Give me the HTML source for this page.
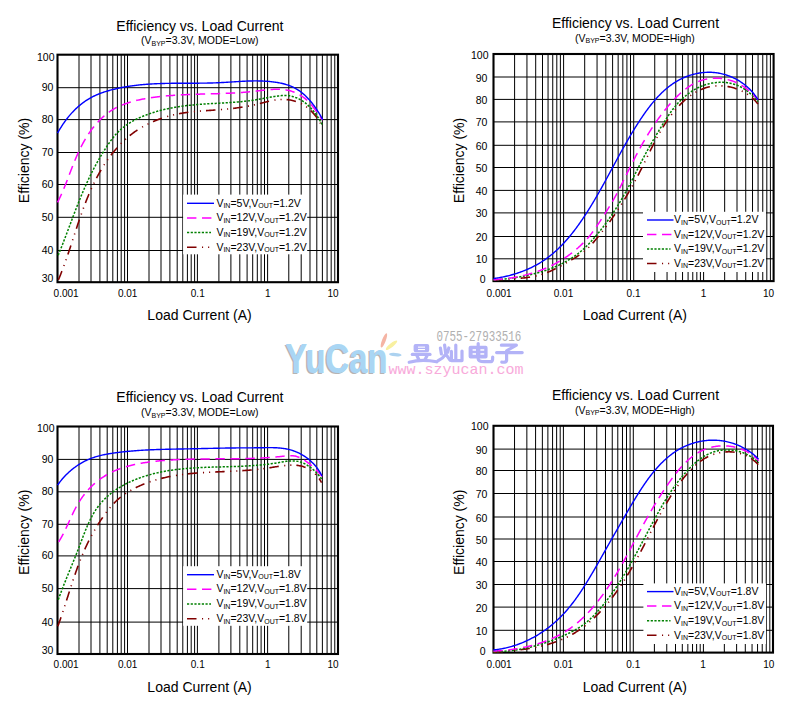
<!DOCTYPE html><html><head><meta charset="utf-8"><style>html,body{margin:0;padding:0;background:#fff;width:811px;height:710px;overflow:hidden}svg{display:block}</style></head><body>
<svg width="811" height="710" viewBox="0 0 811 710">
<rect width="811" height="710" fill="#fff"/>
<path d="M79 54.7V282.2M91 54.7V282.2M99.9 54.7V282.2M107.2 54.7V282.2M112.8 54.7V282.2M117.4 54.7V282.2M121.2 54.7V282.2M124.6 54.7V282.2M127.5 54.7V282.2M149 54.7V282.2M161 54.7V282.2M169.9 54.7V282.2M177.2 54.7V282.2M182.8 54.7V282.2M187.4 54.7V282.2M191.2 54.7V282.2M194.6 54.7V282.2M197.4 54.7V282.2M218.9 54.7V282.2M230.9 54.7V282.2M239.8 54.7V282.2M247.1 54.7V282.2M252.7 54.7V282.2M257.3 54.7V282.2M261.1 54.7V282.2M264.5 54.7V282.2M267.6 54.7V282.2M288.79 54.7V282.2M301.19 54.7V282.2M309.99 54.7V282.2M316.81 54.7V282.2M322.38 54.7V282.2M327.09 54.7V282.2M331.18 54.7V282.2M334.78 54.7V282.2M57.5 87.7H338M57.5 119.6H338M57.5 152.5H338M57.5 184.5H338M57.5 217.3H338M57.5 250.5H338" stroke="#000" stroke-width="1" fill="none"/>
<rect x="183.1" y="194.6" width="124.1" height="59.7" fill="#fff"/>
<rect x="57.5" y="54.7" width="280.5" height="227.5" fill="none" stroke="#000" stroke-width="2.1"/>
<path d="M58.38,279.95 58.76,279.03 59.14,278.12 59.52,277.2 59.89,276.28 60.26,275.36 60.62,274.43 60.99,273.51 61.35,272.58 61.7,271.66 62.06,270.73 62.41,269.8 62.76,268.87 63.11,267.93 63.46,267 63.8,266.07 64.14,265.13 64.48,264.19 64.82,263.25 65.15,262.32 65.49,261.38 65.82,260.43 66.15,259.49 66.48,258.55 66.81,257.61 67.13,256.66 67.45,255.72 67.78,254.77 68.1,253.82 68.42,252.88 68.74,251.93 69.05,250.98 69.37,250.03 69.69,249.08 70,248.13 70.32,247.18 70.63,246.23 70.94,245.28 71.25,244.33 71.57,243.37 71.88,242.42 72.19,241.47 72.5,240.52 72.81,239.56 73.12,238.61 73.43,237.66 73.74,236.71 74.05,235.75 74.36,234.8 74.67,233.85 74.98,232.89 75.29,231.94 75.61,230.99 75.92,230.04 76.23,229.09 76.54,228.13 76.86,227.18 77.17,226.23 77.49,225.28 77.81,224.33 78.13,223.38 78.44,222.43 78.76,221.48 79.09,220.54 79.41,219.59 79.73,218.64 80.06,217.7 80.39,216.75 80.71,215.81 81.05,214.86 81.38,213.92 81.71,212.98 82.05,212.04 82.39,211.1 82.73,210.16 83.07,209.22 83.41,208.28 83.76,207.35 84.11,206.41 84.46,205.48 84.81,204.55 85.17,203.62 85.53,202.69 85.89,201.76 86.25,200.83 86.62,199.9 86.99,198.98 87.36,198.06 87.74,197.14 88.12,196.22 88.5,195.3 88.89,194.38 89.28,193.47 89.67,192.55 90.06,191.64 90.46,190.73 90.87,189.82 91.27,188.92 91.68,188.01 92.1,187.11 92.52,186.21 92.94,185.31 93.37,184.42 93.8,183.52 94.23,182.63 94.67,181.74 95.11,180.85 95.56,179.96 96.01,179.08 96.47,178.2 96.93,177.32 97.4,176.44 97.87,175.57 98.34,174.7 98.83,173.83 99.31,172.96 99.8,172.1 100.3,171.24 100.8,170.38 101.31,169.52 101.82,168.67 102.34,167.81 102.86,166.97 103.39,166.12 103.92,165.28 104.46,164.44 105.01,163.6 105.56,162.77 106.12,161.94 106.68,161.11 107.25,160.28 107.82,159.46 108.4,158.64 108.99,157.83 109.58,157.02 110.18,156.21 110.79,155.41 111.4,154.61 112.02,153.82 112.64,153.03 113.27,152.25 113.9,151.47 114.55,150.7 115.19,149.93 115.85,149.16 116.51,148.41 117.17,147.65 117.84,146.91 118.52,146.17 119.2,145.43 119.89,144.7 120.59,143.98 121.29,143.27 122,142.56 122.71,141.86 123.43,141.16 124.16,140.48 124.89,139.79 125.63,139.12 126.37,138.46 127.12,137.8 127.88,137.15 128.64,136.51 129.41,135.87 130.19,135.25 130.97,134.63 131.75,134.02 132.55,133.42 133.35,132.83 134.15,132.25 134.96,131.68 135.78,131.11 136.6,130.56 137.43,130.01 138.27,129.47 139.11,128.94 139.95,128.42 140.8,127.9 141.66,127.4 142.52,126.9 143.38,126.41 144.25,125.93 145.12,125.46 146,125 146.89,124.54 147.78,124.1 148.67,123.66 149.57,123.23 150.47,122.8 151.37,122.39 152.28,121.98 153.19,121.59 154.11,121.2 155.03,120.81 155.95,120.44 156.88,120.07 157.81,119.71 158.75,119.36 159.68,119.02 160.62,118.68 161.57,118.36 162.51,118.04 163.46,117.72 164.41,117.42 165.37,117.12 166.33,116.83 167.29,116.55 168.25,116.28 169.21,116.01 170.18,115.75 171.15,115.5 172.12,115.26 173.09,115.02 174.06,114.79 175.04,114.57 176.01,114.35 176.99,114.15 177.97,113.95 178.95,113.75 179.94,113.57 180.92,113.39 181.9,113.22 182.89,113.05 183.88,112.9 184.86,112.75 185.85,112.6 186.84,112.46 187.83,112.33 188.82,112.2 189.81,112.08 190.8,111.97 191.79,111.85 192.79,111.75 193.78,111.64 194.77,111.55 195.76,111.45 196.76,111.36 197.75,111.27 198.75,111.19 199.74,111.11 200.74,111.03 201.73,110.95 202.73,110.88 203.72,110.8 204.72,110.73 205.71,110.66 206.71,110.6 207.7,110.53 208.7,110.46 209.69,110.39 210.68,110.33 211.68,110.26 212.67,110.19 213.67,110.13 214.66,110.06 215.65,109.99 216.64,109.92 217.63,109.84 218.62,109.77 219.62,109.69 220.61,109.61 221.59,109.53 222.58,109.45 223.57,109.36 224.56,109.27 225.55,109.18 226.53,109.09 227.52,108.99 228.51,108.89 229.49,108.79 230.48,108.68 231.46,108.57 232.45,108.46 233.43,108.34 234.42,108.22 235.4,108.09 236.38,107.97 237.37,107.83 238.35,107.7 239.33,107.56 240.32,107.41 241.3,107.26 242.28,107.11 243.26,106.95 244.24,106.79 245.23,106.62 246.21,106.45 247.19,106.27 248.17,106.09 249.15,105.9 250.14,105.71 251.12,105.51 252.1,105.31 253.08,105.1 254.06,104.89 255.05,104.66 256.03,104.44 257.01,104.2 257.99,103.97 258.98,103.72 259.96,103.47 260.94,103.22 261.92,102.97 262.91,102.71 263.89,102.46 264.87,102.21 265.86,101.96 266.84,101.72 267.83,101.48 268.81,101.25 269.8,101.03 270.78,100.81 271.77,100.61 272.75,100.42 273.74,100.24 274.72,100.08 275.71,99.93 276.69,99.8 277.68,99.68 278.67,99.59 279.65,99.51 280.64,99.46 281.63,99.43 282.61,99.41 283.6,99.42 284.58,99.45 285.56,99.5 286.53,99.58 287.51,99.67 288.48,99.79 289.44,99.92 290.4,100.08 291.36,100.27 292.31,100.47 293.26,100.7 294.2,100.95 295.13,101.22 296.06,101.52 296.98,101.84 297.89,102.18 298.79,102.55 299.69,102.94 300.57,103.36 301.45,103.79 302.31,104.26 303.17,104.74 304.02,105.26 304.85,105.79 305.67,106.35 306.48,106.94 307.28,107.55 308.07,108.17 308.84,108.82 309.6,109.49 310.35,110.18 311.08,110.89 311.8,111.62 312.51,112.36 313.2,113.12 313.88,113.89 314.54,114.67 315.19,115.47 315.82,116.29 316.43,117.11 317.03,117.94 317.61,118.79 318.17,119.64 318.72,120.5 319.25,121.37 319.76,122.24 320.26,123.12 320.73,124 321.19,124.89 321.63,125.78 322.04,126.67" fill="none" stroke="#800000" stroke-width="1.6" stroke-dasharray="9.5 5.5 1.1 5 1.1 5" stroke-linejoin="round"/>
<path d="M58.19,255.19 58.56,254.28 58.94,253.37 59.31,252.45 59.69,251.54 60.06,250.62 60.43,249.7 60.79,248.78 61.16,247.86 61.53,246.94 61.89,246.02 62.25,245.09 62.62,244.17 62.98,243.24 63.34,242.31 63.7,241.38 64.05,240.46 64.41,239.53 64.77,238.6 65.12,237.66 65.48,236.73 65.83,235.8 66.19,234.87 66.54,233.93 66.89,233 67.25,232.06 67.6,231.13 67.95,230.19 68.3,229.26 68.65,228.32 69.01,227.38 69.36,226.45 69.71,225.51 70.06,224.57 70.41,223.64 70.76,222.7 71.12,221.76 71.47,220.82 71.82,219.89 72.17,218.95 72.53,218.01 72.88,217.07 73.24,216.14 73.59,215.2 73.95,214.26 74.3,213.33 74.66,212.39 75.02,211.46 75.38,210.52 75.74,209.59 76.1,208.65 76.46,207.72 76.83,206.79 77.19,205.85 77.56,204.92 77.92,203.99 78.29,203.06 78.66,202.13 79.03,201.2 79.4,200.28 79.78,199.35 80.15,198.42 80.53,197.5 80.91,196.58 81.29,195.65 81.67,194.73 82.06,193.81 82.44,192.89 82.83,191.97 83.22,191.06 83.61,190.14 84.01,189.23 84.41,188.32 84.81,187.4 85.21,186.5 85.61,185.59 86.02,184.68 86.43,183.78 86.84,182.87 87.25,181.97 87.67,181.07 88.09,180.17 88.51,179.27 88.93,178.38 89.36,177.48 89.79,176.59 90.22,175.7 90.66,174.81 91.1,173.92 91.54,173.04 91.98,172.15 92.43,171.27 92.88,170.39 93.34,169.5 93.8,168.63 94.26,167.75 94.72,166.87 95.19,166 95.66,165.12 96.13,164.25 96.61,163.38 97.09,162.51 97.58,161.64 98.07,160.77 98.56,159.91 99.06,159.04 99.56,158.18 100.06,157.32 100.57,156.46 101.08,155.6 101.59,154.74 102.11,153.88 102.64,153.03 103.16,152.17 103.7,151.32 104.23,150.47 104.77,149.62 105.32,148.77 105.87,147.92 106.42,147.07 106.98,146.23 107.54,145.38 108.1,144.54 108.68,143.7 109.25,142.87 109.84,142.03 110.43,141.21 111.02,140.39 111.63,139.57 112.24,138.76 112.86,137.96 113.49,137.17 114.12,136.39 114.77,135.62 115.43,134.86 116.09,134.11 116.77,133.38 117.45,132.65 118.15,131.95 118.86,131.25 119.58,130.57 120.3,129.9 121.04,129.25 121.79,128.6 122.55,127.97 123.32,127.36 124.1,126.75 124.88,126.16 125.68,125.58 126.48,125.01 127.29,124.45 128.11,123.91 128.94,123.37 129.77,122.85 130.61,122.34 131.46,121.84 132.32,121.34 133.18,120.86 134.05,120.39 134.93,119.93 135.81,119.48 136.69,119.04 137.59,118.6 138.49,118.18 139.39,117.77 140.3,117.36 141.21,116.96 142.12,116.57 143.05,116.19 143.97,115.82 144.9,115.45 145.83,115.1 146.76,114.74 147.7,114.4 148.64,114.07 149.59,113.74 150.53,113.41 151.48,113.1 152.43,112.79 153.38,112.48 154.34,112.19 155.29,111.9 156.25,111.61 157.21,111.34 158.18,111.07 159.14,110.8 160.11,110.54 161.08,110.29 162.05,110.04 163.02,109.8 163.99,109.57 164.96,109.34 165.94,109.11 166.92,108.89 167.9,108.68 168.88,108.47 169.86,108.27 170.84,108.08 171.82,107.89 172.81,107.7 173.79,107.52 174.78,107.34 175.77,107.17 176.76,107.01 177.74,106.85 178.73,106.69 179.72,106.54 180.71,106.4 181.7,106.25 182.69,106.12 183.69,105.98 184.68,105.86 185.67,105.73 186.66,105.61 187.65,105.5 188.65,105.39 189.64,105.28 190.63,105.18 191.62,105.08 192.62,104.98 193.61,104.89 194.6,104.8 195.6,104.71 196.59,104.62 197.58,104.54 198.58,104.46 199.57,104.39 200.57,104.31 201.56,104.24 202.55,104.17 203.55,104.1 204.54,104.04 205.54,103.97 206.53,103.91 207.53,103.85 208.52,103.79 209.51,103.73 210.51,103.67 211.5,103.61 212.5,103.56 213.49,103.5 214.49,103.45 215.48,103.39 216.48,103.34 217.47,103.28 218.46,103.23 219.46,103.17 220.45,103.11 221.45,103.06 222.44,103 223.43,102.94 224.43,102.89 225.42,102.83 226.42,102.77 227.41,102.7 228.4,102.64 229.4,102.58 230.39,102.51 231.38,102.44 232.38,102.37 233.37,102.3 234.36,102.22 235.35,102.15 236.34,102.07 237.34,101.98 238.33,101.9 239.32,101.81 240.31,101.72 241.3,101.63 242.29,101.53 243.28,101.43 244.27,101.32 245.26,101.21 246.25,101.1 247.24,100.99 248.23,100.87 249.22,100.74 250.21,100.61 251.2,100.48 252.19,100.34 253.17,100.2 254.16,100.05 255.15,99.9 256.13,99.74 257.12,99.57 258.11,99.41 259.09,99.24 260.08,99.06 261.06,98.89 262.05,98.71 263.03,98.53 264.02,98.35 265,98.17 265.99,97.99 266.97,97.81 267.96,97.63 268.94,97.45 269.92,97.28 270.91,97.11 271.89,96.94 272.88,96.77 273.86,96.61 274.85,96.46 275.83,96.31 276.82,96.16 277.8,96.02 278.79,95.89 279.77,95.78 280.76,95.67 281.74,95.59 282.72,95.53 283.7,95.49 284.68,95.47 285.66,95.49 286.64,95.53 287.61,95.61 288.58,95.72 289.54,95.86 290.5,96.04 291.46,96.24 292.41,96.47 293.35,96.73 294.29,97.02 295.22,97.34 296.14,97.68 297.05,98.06 297.96,98.46 298.85,98.88 299.73,99.34 300.61,99.82 301.47,100.32 302.32,100.85 303.16,101.4 303.98,101.98 304.8,102.57 305.59,103.19 306.38,103.83 307.15,104.49 307.91,105.16 308.65,105.85 309.38,106.56 310.09,107.28 310.79,108.01 311.48,108.76 312.15,109.52 312.81,110.29 313.45,111.07 314.08,111.86 314.7,112.66 315.3,113.47 315.9,114.28 316.48,115.11 317.04,115.93 317.6,116.77 318.14,117.61 318.67,118.45 319.19,119.29 319.7,120.14 320.2,120.99 320.68,121.84 321.16,122.69 321.63,123.54 322.08,124.38" fill="none" stroke="#008000" stroke-width="1.5" stroke-dasharray="2.2 1.5" stroke-linejoin="round"/>
<path d="M57.55,202.3 58.01,201.4 58.47,200.49 58.92,199.58 59.37,198.66 59.81,197.75 60.24,196.84 60.67,195.92 61.09,195.01 61.5,194.09 61.91,193.17 62.31,192.25 62.71,191.33 63.1,190.41 63.49,189.49 63.88,188.57 64.26,187.65 64.63,186.73 65.01,185.8 65.38,184.88 65.75,183.96 66.11,183.03 66.47,182.11 66.83,181.18 67.19,180.26 67.55,179.33 67.9,178.41 68.26,177.48 68.61,176.55 68.96,175.63 69.31,174.7 69.66,173.78 70.02,172.85 70.37,171.92 70.72,171 71.07,170.07 71.43,169.15 71.78,168.23 72.14,167.3 72.5,166.38 72.86,165.45 73.22,164.53 73.59,163.61 73.96,162.69 74.33,161.77 74.7,160.85 75.08,159.93 75.47,159.01 75.85,158.09 76.24,157.18 76.64,156.26 77.04,155.35 77.44,154.43 77.86,153.52 78.27,152.61 78.69,151.7 79.12,150.79 79.56,149.88 80,148.98 80.45,148.07 80.9,147.17 81.36,146.27 81.83,145.38 82.3,144.48 82.78,143.59 83.27,142.7 83.76,141.81 84.26,140.93 84.77,140.06 85.28,139.18 85.8,138.31 86.33,137.45 86.86,136.59 87.41,135.73 87.95,134.88 88.51,134.04 89.07,133.2 89.64,132.36 90.22,131.54 90.81,130.72 91.4,129.9 92,129.09 92.6,128.29 93.22,127.5 93.84,126.71 94.47,125.94 95.11,125.17 95.75,124.4 96.41,123.65 97.07,122.9 97.73,122.17 98.41,121.44 99.09,120.72 99.79,120.01 100.49,119.31 101.19,118.62 101.91,117.94 102.63,117.28 103.37,116.62 104.11,115.97 104.86,115.33 105.61,114.71 106.38,114.1 107.15,113.49 107.94,112.9 108.73,112.33 109.53,111.76 110.33,111.21 111.15,110.67 111.98,110.14 112.81,109.63 113.65,109.13 114.5,108.64 115.36,108.17 116.23,107.71 117.11,107.26 117.99,106.82 118.88,106.4 119.78,105.99 120.68,105.59 121.59,105.2 122.51,104.82 123.44,104.45 124.36,104.1 125.3,103.75 126.24,103.42 127.19,103.09 128.14,102.78 129.09,102.47 130.05,102.18 131.02,101.89 131.99,101.61 132.96,101.34 133.94,101.08 134.92,100.83 135.9,100.59 136.89,100.35 137.88,100.12 138.87,99.9 139.86,99.68 140.85,99.48 141.85,99.28 142.85,99.08 143.85,98.89 144.85,98.71 145.85,98.54 146.86,98.37 147.86,98.2 148.86,98.04 149.87,97.89 150.87,97.73 151.87,97.59 152.87,97.45 153.87,97.31 154.87,97.18 155.87,97.05 156.87,96.92 157.87,96.8 158.87,96.68 159.86,96.57 160.86,96.46 161.86,96.35 162.85,96.24 163.85,96.14 164.84,96.05 165.84,95.95 166.83,95.86 167.82,95.78 168.82,95.69 169.81,95.61 170.8,95.53 171.79,95.46 172.78,95.38 173.77,95.31 174.76,95.24 175.76,95.18 176.75,95.12 177.74,95.05 178.73,95 179.71,94.94 180.7,94.89 181.69,94.83 182.68,94.78 183.67,94.73 184.66,94.69 185.65,94.64 186.64,94.6 187.63,94.56 188.62,94.52 189.61,94.48 190.59,94.44 191.58,94.41 192.57,94.37 193.56,94.34 194.55,94.3 195.54,94.27 196.53,94.24 197.52,94.21 198.51,94.18 199.5,94.15 200.49,94.12 201.48,94.1 202.47,94.07 203.46,94.04 204.45,94.01 205.44,93.99 206.44,93.96 207.43,93.93 208.42,93.91 209.41,93.88 210.4,93.85 211.4,93.83 212.39,93.8 213.38,93.77 214.38,93.74 215.37,93.71 216.36,93.68 217.36,93.65 218.35,93.62 219.35,93.59 220.34,93.55 221.34,93.52 222.33,93.48 223.33,93.45 224.33,93.41 225.32,93.37 226.32,93.33 227.32,93.29 228.32,93.24 229.31,93.2 230.31,93.15 231.31,93.1 232.31,93.05 233.31,93 234.31,92.94 235.31,92.89 236.31,92.83 237.31,92.77 238.31,92.7 239.32,92.64 240.32,92.57 241.32,92.5 242.32,92.42 243.33,92.35 244.33,92.27 245.34,92.19 246.34,92.1 247.35,92.01 248.35,91.92 249.36,91.83 250.37,91.73 251.37,91.63 252.38,91.53 253.39,91.42 254.4,91.31 255.41,91.19 256.42,91.07 257.43,90.95 258.44,90.83 259.45,90.71 260.46,90.58 261.47,90.46 262.48,90.34 263.49,90.22 264.5,90.1 265.5,89.99 266.51,89.88 267.52,89.78 268.52,89.68 269.52,89.59 270.53,89.51 271.53,89.44 272.52,89.38 273.52,89.33 274.52,89.29 275.51,89.26 276.5,89.24 277.49,89.24 278.47,89.25 279.45,89.28 280.43,89.32 281.41,89.38 282.39,89.46 283.36,89.55 284.32,89.67 285.29,89.8 286.25,89.96 287.2,90.14 288.16,90.34 289.11,90.56 290.05,90.81 290.99,91.08 291.92,91.37 292.85,91.69 293.78,92.03 294.69,92.4 295.6,92.79 296.5,93.2 297.39,93.63 298.27,94.08 299.15,94.56 300.01,95.05 300.86,95.57 301.7,96.11 302.53,96.67 303.34,97.24 304.15,97.84 304.93,98.46 305.71,99.09 306.47,99.75 307.21,100.42 307.94,101.11 308.65,101.82 309.35,102.55 310.03,103.29 310.69,104.04 311.35,104.81 311.99,105.59 312.62,106.38 313.24,107.18 313.85,107.98 314.45,108.79 315.05,109.61 315.64,110.43 316.22,111.26 316.8,112.08 317.38,112.91 317.95,113.73 318.52,114.55 319.09,115.37 319.67,116.18 320.24,116.99 320.81,117.79 321.39,118.58 321.97,119.36 322.56,120.12" fill="none" stroke="#ff00ff" stroke-width="1.5" stroke-dasharray="9.4 5.6" stroke-linejoin="round"/>
<path d="M57.56,133.07 58.05,132.19 58.55,131.32 59.06,130.45 59.57,129.58 60.09,128.72 60.62,127.86 61.16,127.01 61.7,126.16 62.25,125.32 62.81,124.48 63.37,123.65 63.95,122.82 64.53,122 65.12,121.18 65.71,120.37 66.32,119.56 66.93,118.77 67.55,117.98 68.17,117.19 68.81,116.41 69.45,115.64 70.1,114.88 70.75,114.13 71.42,113.38 72.09,112.64 72.77,111.91 73.46,111.19 74.16,110.47 74.86,109.77 75.57,109.07 76.29,108.38 77.02,107.71 77.76,107.04 78.5,106.38 79.25,105.73 80.01,105.1 80.78,104.47 81.55,103.85 82.34,103.24 83.13,102.65 83.93,102.07 84.74,101.49 85.56,100.93 86.38,100.38 87.22,99.85 88.06,99.32 88.91,98.81 89.77,98.31 90.63,97.82 91.51,97.35 92.39,96.89 93.28,96.44 94.18,96 95.09,95.58 96,95.17 96.92,94.76 97.84,94.38 98.77,94 99.71,93.63 100.65,93.27 101.6,92.92 102.55,92.59 103.5,92.26 104.46,91.94 105.42,91.63 106.39,91.33 107.36,91.03 108.33,90.75 109.3,90.47 110.27,90.2 111.25,89.94 112.23,89.69 113.2,89.44 114.18,89.2 115.16,88.96 116.14,88.73 117.12,88.51 118.1,88.29 119.08,88.08 120.06,87.88 121.04,87.68 122.02,87.48 123,87.3 123.98,87.12 124.97,86.94 125.95,86.77 126.93,86.6 127.92,86.44 128.9,86.29 129.89,86.14 130.87,85.99 131.86,85.85 132.84,85.72 133.83,85.59 134.82,85.46 135.8,85.34 136.79,85.23 137.78,85.12 138.77,85.01 139.76,84.9 140.75,84.81 141.73,84.71 142.72,84.62 143.71,84.53 144.71,84.45 145.7,84.37 146.69,84.29 147.68,84.22 148.67,84.15 149.66,84.09 150.66,84.02 151.65,83.96 152.64,83.91 153.64,83.85 154.63,83.8 155.62,83.76 156.62,83.71 157.61,83.67 158.61,83.63 159.6,83.59 160.6,83.56 161.59,83.53 162.59,83.5 163.59,83.47 164.58,83.45 165.58,83.42 166.58,83.4 167.57,83.38 168.57,83.36 169.57,83.34 170.57,83.33 171.57,83.32 172.56,83.3 173.56,83.29 174.56,83.28 175.56,83.27 176.56,83.27 177.56,83.26 178.56,83.25 179.56,83.25 180.56,83.25 181.56,83.24 182.56,83.24 183.56,83.24 184.56,83.23 185.56,83.23 186.56,83.23 187.57,83.23 188.57,83.22 189.57,83.22 190.57,83.22 191.57,83.22 192.57,83.21 193.58,83.21 194.58,83.2 195.58,83.2 196.58,83.19 197.58,83.19 198.59,83.18 199.59,83.17 200.59,83.16 201.59,83.15 202.6,83.14 203.6,83.13 204.6,83.11 205.61,83.1 206.61,83.08 207.61,83.06 208.62,83.04 209.62,83.02 210.62,82.99 211.63,82.97 212.63,82.94 213.63,82.91 214.64,82.87 215.64,82.84 216.64,82.8 217.65,82.76 218.65,82.71 219.65,82.67 220.66,82.62 221.66,82.57 222.66,82.51 223.67,82.46 224.67,82.4 225.67,82.34 226.68,82.28 227.68,82.22 228.68,82.15 229.69,82.09 230.69,82.03 231.69,81.96 232.7,81.9 233.7,81.83 234.7,81.77 235.7,81.71 236.7,81.64 237.71,81.58 238.71,81.52 239.71,81.46 240.71,81.41 241.71,81.35 242.71,81.3 243.71,81.25 244.71,81.2 245.71,81.15 246.71,81.11 247.71,81.07 248.71,81.04 249.71,81.01 250.71,80.98 251.71,80.96 252.7,80.94 253.7,80.92 254.7,80.91 255.7,80.91 256.69,80.91 257.69,80.91 258.68,80.93 259.68,80.94 260.67,80.97 261.67,81 262.66,81.03 263.65,81.08 264.65,81.13 265.64,81.19 266.63,81.25 267.62,81.33 268.61,81.41 269.6,81.5 270.59,81.6 271.58,81.7 272.57,81.82 273.56,81.94 274.55,82.08 275.53,82.22 276.52,82.37 277.51,82.53 278.49,82.71 279.47,82.89 280.45,83.09 281.42,83.3 282.4,83.53 283.36,83.76 284.33,84.01 285.28,84.28 286.24,84.56 287.18,84.86 288.12,85.17 289.05,85.5 289.98,85.85 290.89,86.21 291.8,86.59 292.7,87 293.59,87.42 294.47,87.86 295.33,88.32 296.19,88.81 297.04,89.31 297.87,89.83 298.7,90.37 299.51,90.93 300.32,91.51 301.11,92.11 301.89,92.72 302.66,93.35 303.43,93.99 304.18,94.65 304.92,95.33 305.65,96.01 306.37,96.72 307.08,97.43 307.78,98.16 308.48,98.9 309.16,99.65 309.83,100.41 310.49,101.18 311.14,101.96 311.79,102.75 312.42,103.54 313.04,104.35 313.66,105.16 314.26,105.98 314.86,106.81 315.44,107.64 316.02,108.48 316.59,109.32 317.14,110.17 317.69,111.01 318.23,111.87 318.77,112.72 319.29,113.58 319.8,114.44 320.31,115.29 320.8,116.15 321.29,117.01 321.77,117.87 322.24,118.72 322.7,119.58" fill="none" stroke="#0000ff" stroke-width="1.4" stroke-linejoin="round"/>
<path d="M187 203.3H214" stroke="#0000ff" stroke-width="1.4"/>
<text x="216.4" y="206.5" font-size="10.5" font-family="'Liberation Sans', sans-serif">V<tspan font-size="7" dy="1.5">IN</tspan><tspan dy="-1.5">=5V,V</tspan><tspan font-size="7" dy="1.5">OUT</tspan><tspan dy="-1.5">=1.2V</tspan></text>
<path d="M187 217.9H214" stroke="#ff00ff" stroke-width="1.5" stroke-dasharray="9.4 5.6"/>
<text x="216.4" y="221.1" font-size="10.5" font-family="'Liberation Sans', sans-serif">V<tspan font-size="7" dy="1.5">IN</tspan><tspan dy="-1.5">=12V,V</tspan><tspan font-size="7" dy="1.5">OUT</tspan><tspan dy="-1.5">=1.2V</tspan></text>
<path d="M187 232.6H211" stroke="#008000" stroke-width="1.5" stroke-dasharray="2.2 1.5"/>
<text x="216.4" y="235.8" font-size="10.5" font-family="'Liberation Sans', sans-serif">V<tspan font-size="7" dy="1.5">IN</tspan><tspan dy="-1.5">=19V,V</tspan><tspan font-size="7" dy="1.5">OUT</tspan><tspan dy="-1.5">=1.2V</tspan></text>
<path d="M187 247.3H214" stroke="#800000" stroke-width="1.6" stroke-dasharray="9.5 5.5 1.1 5 1.1 5"/>
<text x="216.4" y="250.5" font-size="10.5" font-family="'Liberation Sans', sans-serif">V<tspan font-size="7" dy="1.5">IN</tspan><tspan dy="-1.5">=23V,V</tspan><tspan font-size="7" dy="1.5">OUT</tspan><tspan dy="-1.5">=1.2V</tspan></text>
<text x="116.3" y="30.8" font-size="14" font-family="'Liberation Sans', sans-serif">Efficiency vs. Load Current</text>
<text x="141.0" y="44.1" font-size="10.5" font-family="'Liberation Sans', sans-serif">(V<tspan font-size="7" dy="1.6">BYP</tspan><tspan dy="-1.6">=3.3V, MODE=Low)</tspan></text>
<text x="199.5" y="319.5" font-size="14" font-family="'Liberation Sans', sans-serif" text-anchor="middle">Load Current (A)</text>
<text transform="translate(28.8 160.5) rotate(-90)" font-size="14" font-family="'Liberation Sans', sans-serif" text-anchor="middle">Efficiency (%)</text>
<text x="53.4" y="282.2" font-size="10.5" font-family="'Liberation Sans', sans-serif" text-anchor="end">30</text>
<text x="53.4" y="254" font-size="10.5" font-family="'Liberation Sans', sans-serif" text-anchor="end">40</text>
<text x="53.4" y="220.8" font-size="10.5" font-family="'Liberation Sans', sans-serif" text-anchor="end">50</text>
<text x="53.4" y="188" font-size="10.5" font-family="'Liberation Sans', sans-serif" text-anchor="end">60</text>
<text x="53.4" y="156" font-size="10.5" font-family="'Liberation Sans', sans-serif" text-anchor="end">70</text>
<text x="53.4" y="123.1" font-size="10.5" font-family="'Liberation Sans', sans-serif" text-anchor="end">80</text>
<text x="53.4" y="91.2" font-size="10.5" font-family="'Liberation Sans', sans-serif" text-anchor="end">90</text>
<text x="54.5" y="61" font-size="10.5" font-family="'Liberation Sans', sans-serif" text-anchor="end">100</text>
<text x="53.6" y="297" font-size="10" font-family="'Liberation Sans', sans-serif">0.001</text>
<text x="127.62" y="297" font-size="10" font-family="'Liberation Sans', sans-serif" text-anchor="middle">0.01</text>
<text x="197.75" y="297" font-size="10" font-family="'Liberation Sans', sans-serif" text-anchor="middle">0.1</text>
<text x="267.88" y="297" font-size="10" font-family="'Liberation Sans', sans-serif" text-anchor="middle">1</text>
<text x="338.6" y="297" font-size="10" font-family="'Liberation Sans', sans-serif" text-anchor="end">10</text>
<path d="M514.6 54V281.1M526.95 54V281.1M535.7 54V281.1M542.5 54V281.1M548.05 54V281.1M552.74 54V281.1M556.81 54V281.1M560.39 54V281.1M563.6 54V281.1M584.7 54V281.1M597.05 54V281.1M605.8 54V281.1M612.6 54V281.1M618.15 54V281.1M622.84 54V281.1M626.91 54V281.1M630.49 54V281.1M633.7 54V281.1M654.74 54V281.1M667.05 54V281.1M675.78 54V281.1M682.56 54V281.1M688.09 54V281.1M692.77 54V281.1M696.83 54V281.1M700.4 54V281.1M703.6 54V281.1M724.67 54V281.1M737 54V281.1M745.74 54V281.1M752.53 54V281.1M758.07 54V281.1M762.76 54V281.1M766.82 54V281.1M770.4 54V281.1M493.5 77H773.6M493.5 99.4H773.6M493.5 121.9H773.6M493.5 145.3H773.6M493.5 167.5H773.6M493.5 190.4H773.6M493.5 212.9H773.6M493.5 236.5H773.6M493.5 258.8H773.6" stroke="#000" stroke-width="1" fill="none"/>
<rect x="643" y="211.8" width="123" height="60.2" fill="#fff"/>
<rect x="493.5" y="54" width="280.1" height="227.1" fill="none" stroke="#000" stroke-width="2.1"/>
<path d="M493.49,280.18 494.46,280.09 495.44,280 496.42,279.92 497.4,279.84 498.38,279.77 499.37,279.7 500.36,279.63 501.35,279.56 502.34,279.5 503.34,279.43 504.34,279.37 505.34,279.31 506.34,279.25 507.34,279.19 508.34,279.13 509.35,279.07 510.35,279.01 511.36,278.95 512.37,278.88 513.37,278.82 514.38,278.75 515.39,278.68 516.4,278.6 517.4,278.53 518.41,278.44 519.42,278.36 520.42,278.27 521.43,278.17 522.43,278.07 523.43,277.96 524.43,277.85 525.43,277.73 526.43,277.6 527.42,277.47 528.42,277.33 529.41,277.18 530.4,277.02 531.38,276.86 532.37,276.68 533.35,276.5 534.32,276.3 535.3,276.1 536.27,275.88 537.24,275.65 538.2,275.42 539.16,275.17 540.11,274.91 541.07,274.63 542.01,274.34 542.96,274.04 543.89,273.73 544.83,273.4 545.75,273.06 546.68,272.7 547.6,272.34 548.51,271.96 549.42,271.56 550.33,271.16 551.23,270.75 552.13,270.33 553.03,269.9 553.92,269.46 554.81,269.01 555.7,268.56 556.59,268.1 557.48,267.63 558.36,267.16 559.24,266.69 560.13,266.21 561.01,265.73 561.89,265.25 562.77,264.77 563.65,264.28 564.53,263.8 565.41,263.31 566.29,262.83 567.17,262.34 568.05,261.85 568.92,261.36 569.8,260.87 570.67,260.37 571.54,259.87 572.4,259.36 573.26,258.85 574.12,258.33 574.97,257.81 575.82,257.29 576.66,256.75 577.5,256.21 578.33,255.66 579.15,255.11 579.97,254.54 580.78,253.97 581.59,253.39 582.38,252.8 583.17,252.19 583.94,251.58 584.71,250.96 585.47,250.32 586.22,249.68 586.96,249.02 587.69,248.34 588.41,247.66 589.11,246.97 589.81,246.26 590.51,245.55 591.19,244.82 591.87,244.09 592.54,243.35 593.2,242.61 593.86,241.86 594.51,241.1 595.16,240.34 595.81,239.58 596.45,238.81 597.09,238.04 597.72,237.27 598.36,236.5 598.99,235.73 599.61,234.95 600.24,234.17 600.86,233.39 601.48,232.61 602.1,231.83 602.71,231.04 603.32,230.26 603.93,229.47 604.54,228.68 605.14,227.88 605.74,227.09 606.34,226.29 606.94,225.49 607.53,224.69 608.12,223.89 608.71,223.09 609.3,222.28 609.88,221.48 610.46,220.67 611.04,219.86 611.61,219.04 612.19,218.23 612.76,217.41 613.32,216.6 613.89,215.78 614.45,214.96 615.01,214.13 615.57,213.31 616.13,212.48 616.68,211.66 617.23,210.83 617.78,210 618.33,209.16 618.87,208.33 619.41,207.5 619.95,206.66 620.49,205.82 621.02,204.98 621.56,204.14 622.09,203.3 622.62,202.45 623.14,201.6 623.67,200.76 624.19,199.91 624.71,199.06 625.22,198.2 625.74,197.35 626.25,196.49 626.76,195.64 627.27,194.78 627.77,193.92 628.28,193.06 628.78,192.2 629.28,191.33 629.78,190.47 630.27,189.6 630.77,188.73 631.26,187.86 631.75,186.99 632.24,186.12 632.72,185.25 633.21,184.37 633.69,183.5 634.17,182.62 634.64,181.74 635.12,180.86 635.59,179.98 636.06,179.1 636.53,178.21 637,177.33 637.47,176.44 637.93,175.55 638.39,174.66 638.86,173.77 639.31,172.88 639.77,171.99 640.23,171.1 640.68,170.2 641.13,169.31 641.58,168.41 642.03,167.51 642.47,166.61 642.92,165.71 643.36,164.81 643.81,163.91 644.25,163.01 644.69,162.11 645.13,161.2 645.57,160.3 646.01,159.4 646.45,158.49 646.89,157.59 647.33,156.69 647.77,155.78 648.21,154.88 648.65,153.98 649.09,153.08 649.54,152.17 649.98,151.27 650.42,150.37 650.87,149.47 651.31,148.58 651.76,147.68 652.21,146.78 652.66,145.89 653.11,144.99 653.57,144.1 654.02,143.21 654.48,142.32 654.94,141.43 655.4,140.54 655.87,139.66 656.34,138.78 656.81,137.9 657.28,137.02 657.76,136.14 658.24,135.27 658.72,134.4 659.21,133.53 659.7,132.66 660.19,131.79 660.69,130.93 661.19,130.07 661.7,129.22 662.21,128.37 662.72,127.52 663.24,126.67 663.77,125.82 664.3,124.98 664.83,124.15 665.37,123.31 665.91,122.48 666.46,121.66 667.02,120.84 667.58,120.02 668.14,119.2 668.71,118.39 669.29,117.59 669.88,116.79 670.47,115.99 671.06,115.2 671.66,114.41 672.27,113.62 672.89,112.84 673.51,112.07 674.14,111.3 674.78,110.53 675.43,109.77 676.08,109.02 676.74,108.27 677.4,107.53 678.08,106.79 678.76,106.06 679.45,105.33 680.15,104.61 680.86,103.89 681.57,103.19 682.3,102.49 683.03,101.8 683.76,101.11 684.51,100.44 685.27,99.77 686.03,99.12 686.8,98.47 687.57,97.84 688.36,97.22 689.15,96.61 689.95,96.01 690.76,95.42 691.57,94.85 692.4,94.29 693.23,93.74 694.07,93.21 694.91,92.69 695.76,92.19 696.62,91.71 697.49,91.24 698.37,90.78 699.25,90.35 700.14,89.93 701.04,89.53 701.94,89.15 702.85,88.78 703.77,88.44 704.7,88.12 705.63,87.81 706.57,87.53 707.52,87.27 708.47,87.02 709.43,86.81 710.4,86.61 711.37,86.43 712.35,86.28 713.34,86.15 714.33,86.04 715.32,85.95 716.32,85.88 717.32,85.83 718.32,85.81 719.33,85.8 720.33,85.82 721.34,85.85 722.35,85.91 723.36,85.98 724.36,86.08 725.37,86.19 726.38,86.33 727.38,86.48 728.38,86.66 729.38,86.85 730.37,87.06 731.36,87.3 732.35,87.55 733.33,87.82 734.3,88.1 735.27,88.41 736.23,88.74 737.19,89.08 738.14,89.44 739.08,89.82 740.01,90.22 740.93,90.63 741.85,91.07 742.75,91.52 743.64,91.98 744.52,92.47 745.39,92.97 746.25,93.49 747.09,94.02 747.93,94.57 748.74,95.14 749.55,95.73 750.34,96.33 751.11,96.94 751.87,97.57 752.61,98.22 753.34,98.89 754.05,99.57 754.74,100.26 755.41,100.97 756.07,101.7 756.7,102.44 757.32,103.19 757.92,103.96" fill="none" stroke="#800000" stroke-width="1.6" stroke-dasharray="9.5 5.5 1.1 5 1.1 5" stroke-linejoin="round"/>
<path d="M493.5,280.18 494.49,280.09 495.47,280 496.46,279.9 497.45,279.8 498.44,279.7 499.43,279.59 500.42,279.49 501.41,279.38 502.4,279.27 503.39,279.15 504.39,279.04 505.38,278.92 506.37,278.79 507.37,278.67 508.36,278.54 509.35,278.41 510.35,278.27 511.34,278.13 512.33,277.99 513.32,277.85 514.32,277.7 515.31,277.54 516.3,277.39 517.29,277.23 518.28,277.06 519.27,276.89 520.26,276.72 521.25,276.54 522.24,276.36 523.22,276.17 524.21,275.98 525.2,275.79 526.18,275.59 527.16,275.38 528.14,275.17 529.12,274.96 530.1,274.74 531.08,274.51 532.06,274.28 533.03,274.05 534,273.8 534.97,273.56 535.94,273.3 536.91,273.05 537.88,272.78 538.84,272.51 539.8,272.24 540.76,271.95 541.72,271.66 542.67,271.37 543.63,271.07 544.58,270.76 545.53,270.45 546.47,270.13 547.41,269.8 548.36,269.46 549.29,269.12 550.23,268.78 551.16,268.42 552.09,268.06 553.02,267.69 553.94,267.31 554.86,266.93 555.78,266.53 556.69,266.13 557.6,265.73 558.51,265.31 559.41,264.89 560.31,264.46 561.21,264.02 562.11,263.57 563,263.11 563.88,262.65 564.76,262.18 565.64,261.7 566.51,261.21 567.38,260.71 568.25,260.2 569.1,259.69 569.96,259.17 570.81,258.64 571.65,258.1 572.49,257.55 573.32,257 574.15,256.44 574.97,255.87 575.78,255.29 576.59,254.7 577.39,254.1 578.18,253.5 578.97,252.89 579.75,252.26 580.52,251.63 581.29,251 582.05,250.35 582.8,249.7 583.54,249.04 584.27,248.36 585,247.69 585.71,247 586.42,246.3 587.13,245.6 587.82,244.89 588.51,244.18 589.2,243.46 589.88,242.73 590.55,242 591.22,241.27 591.89,240.53 592.55,239.79 593.21,239.04 593.86,238.29 594.52,237.54 595.16,236.79 595.81,236.03 596.45,235.27 597.09,234.5 597.73,233.73 598.36,232.96 598.99,232.19 599.62,231.41 600.24,230.63 600.86,229.85 601.48,229.06 602.09,228.27 602.7,227.48 603.31,226.69 603.91,225.89 604.51,225.09 605.11,224.29 605.7,223.49 606.29,222.68 606.88,221.87 607.47,221.06 608.05,220.24 608.63,219.43 609.21,218.61 609.78,217.79 610.35,216.96 610.91,216.14 611.48,215.31 612.04,214.48 612.6,213.64 613.15,212.81 613.7,211.97 614.25,211.13 614.8,210.29 615.34,209.45 615.88,208.6 616.42,207.76 616.95,206.91 617.48,206.06 618.01,205.21 618.53,204.35 619.06,203.5 619.58,202.64 620.09,201.78 620.61,200.92 621.12,200.05 621.62,199.19 622.13,198.32 622.63,197.46 623.13,196.59 623.63,195.72 624.12,194.85 624.61,193.98 625.1,193.1 625.58,192.23 626.07,191.35 626.55,190.47 627.02,189.59 627.5,188.71 627.97,187.83 628.44,186.95 628.91,186.07 629.37,185.18 629.83,184.3 630.3,183.41 630.76,182.53 631.21,181.64 631.67,180.75 632.13,179.87 632.58,178.98 633.04,178.09 633.49,177.2 633.94,176.31 634.39,175.42 634.84,174.53 635.29,173.64 635.74,172.75 636.19,171.86 636.64,170.97 637.09,170.08 637.55,169.19 638,168.3 638.45,167.41 638.9,166.52 639.35,165.63 639.81,164.74 640.26,163.86 640.72,162.97 641.18,162.08 641.64,161.2 642.1,160.31 642.56,159.43 643.02,158.54 643.49,157.66 643.96,156.78 644.43,155.89 644.9,155.01 645.37,154.13 645.85,153.25 646.32,152.38 646.8,151.5 647.28,150.62 647.77,149.75 648.25,148.87 648.74,148 649.23,147.12 649.72,146.25 650.21,145.38 650.7,144.51 651.2,143.64 651.69,142.77 652.19,141.91 652.69,141.04 653.19,140.17 653.7,139.31 654.2,138.44 654.71,137.58 655.22,136.72 655.73,135.86 656.24,135 656.75,134.14 657.27,133.28 657.78,132.42 658.3,131.57 658.82,130.71 659.34,129.86 659.86,129.01 660.39,128.15 660.91,127.3 661.44,126.45 661.97,125.6 662.5,124.75 663.03,123.91 663.56,123.06 664.09,122.22 664.63,121.37 665.16,120.53 665.7,119.69 666.24,118.84 666.78,118.01 667.33,117.17 667.88,116.33 668.43,115.5 668.99,114.67 669.55,113.85 670.12,113.03 670.69,112.21 671.28,111.4 671.87,110.59 672.46,109.79 673.07,108.99 673.69,108.2 674.31,107.42 674.94,106.64 675.59,105.87 676.24,105.1 676.9,104.35 677.56,103.6 678.24,102.86 678.92,102.12 679.62,101.4 680.32,100.68 681.03,99.98 681.75,99.28 682.48,98.59 683.22,97.92 683.96,97.25 684.71,96.6 685.48,95.95 686.25,95.32 687.03,94.69 687.81,94.08 688.61,93.48 689.41,92.9 690.23,92.32 691.05,91.76 691.88,91.22 692.72,90.68 693.56,90.16 694.42,89.66 695.28,89.17 696.15,88.69 697.03,88.23 697.92,87.78 698.82,87.35 699.72,86.94 700.64,86.54 701.56,86.15 702.49,85.79 703.43,85.44 704.37,85.11 705.33,84.8 706.29,84.5 707.26,84.22 708.23,83.96 709.21,83.72 710.2,83.5 711.19,83.29 712.18,83.11 713.18,82.94 714.18,82.8 715.19,82.67 716.19,82.56 717.2,82.47 718.21,82.4 719.22,82.36 720.23,82.33 721.24,82.32 722.24,82.34 723.25,82.37 724.25,82.43 725.25,82.5 726.25,82.6 727.24,82.72 728.23,82.86 729.22,83.03 730.2,83.21 731.17,83.42 732.13,83.65 733.09,83.91 734.04,84.18 734.99,84.48 735.92,84.81 736.85,85.15 737.76,85.53 738.67,85.92 739.56,86.34 740.45,86.78 741.32,87.24 742.19,87.72 743.04,88.22 743.89,88.74 744.72,89.29 745.54,89.85 746.36,90.42 747.16,91.02 747.95,91.63 748.73,92.26 749.5,92.91 750.26,93.57 751.01,94.24 751.75,94.93 752.48,95.63 753.19,96.35 753.9,97.07 754.59,97.81 755.28,98.56 755.95,99.32 756.61,100.09 757.26,100.86 757.9,101.65" fill="none" stroke="#008000" stroke-width="1.5" stroke-dasharray="2.2 1.5" stroke-linejoin="round"/>
<path d="M493.49,279.78 494.49,279.72 495.49,279.66 496.49,279.59 497.49,279.52 498.48,279.44 499.48,279.36 500.48,279.27 501.48,279.17 502.47,279.07 503.47,278.96 504.46,278.85 505.46,278.73 506.45,278.61 507.44,278.48 508.43,278.35 509.42,278.21 510.41,278.06 511.4,277.91 512.39,277.75 513.38,277.58 514.36,277.41 515.34,277.24 516.33,277.05 517.31,276.87 518.29,276.67 519.26,276.47 520.24,276.26 521.21,276.05 522.19,275.83 523.16,275.6 524.13,275.37 525.1,275.13 526.06,274.88 527.03,274.63 527.99,274.37 528.95,274.11 529.91,273.84 530.86,273.56 531.82,273.27 532.77,272.98 533.72,272.68 534.67,272.38 535.61,272.07 536.55,271.75 537.49,271.42 538.43,271.09 539.37,270.75 540.3,270.4 541.23,270.05 542.15,269.69 543.08,269.32 544,268.94 544.92,268.56 545.83,268.17 546.75,267.77 547.66,267.37 548.56,266.96 549.47,266.54 550.37,266.11 551.26,265.68 552.16,265.24 553.05,264.79 553.94,264.33 554.82,263.87 555.7,263.4 556.58,262.92 557.45,262.43 558.32,261.94 559.19,261.44 560.05,260.93 560.91,260.41 561.76,259.88 562.61,259.35 563.46,258.81 564.3,258.27 565.13,257.71 565.97,257.15 566.79,256.58 567.62,256.01 568.43,255.43 569.25,254.84 570.06,254.25 570.86,253.65 571.66,253.04 572.45,252.42 573.24,251.8 574.02,251.18 574.79,250.55 575.56,249.91 576.33,249.26 577.08,248.61 577.84,247.96 578.58,247.29 579.32,246.63 580.05,245.95 580.78,245.28 581.5,244.59 582.21,243.9 582.92,243.21 583.62,242.51 584.31,241.8 585,241.09 585.68,240.37 586.35,239.64 587.01,238.91 587.67,238.17 588.31,237.42 588.95,236.67 589.59,235.91 590.21,235.14 590.83,234.37 591.44,233.59 592.05,232.81 592.64,232.01 593.24,231.22 593.82,230.42 594.41,229.61 594.98,228.8 595.55,227.99 596.12,227.17 596.68,226.35 597.24,225.53 597.8,224.7 598.35,223.87 598.9,223.04 599.45,222.21 599.99,221.37 600.54,220.54 601.08,219.7 601.62,218.86 602.16,218.02 602.69,217.18 603.23,216.34 603.77,215.51 604.3,214.67 604.84,213.83 605.37,212.99 605.91,212.16 606.44,211.32 606.97,210.48 607.5,209.64 608.03,208.8 608.56,207.96 609.08,207.12 609.6,206.27 610.12,205.42 610.64,204.57 611.15,203.72 611.66,202.87 612.16,202.01 612.66,201.14 613.16,200.28 613.65,199.41 614.14,198.54 614.63,197.67 615.11,196.8 615.59,195.92 616.07,195.04 616.54,194.16 617.01,193.28 617.48,192.39 617.95,191.5 618.41,190.62 618.87,189.73 619.33,188.83 619.79,187.94 620.25,187.05 620.7,186.15 621.16,185.26 621.61,184.36 622.06,183.46 622.51,182.56 622.95,181.66 623.4,180.76 623.85,179.86 624.29,178.96 624.74,178.06 625.18,177.16 625.62,176.26 626.07,175.36 626.51,174.46 626.95,173.56 627.39,172.67 627.84,171.77 628.28,170.87 628.72,169.97 629.17,169.08 629.61,168.18 630.06,167.29 630.5,166.4 630.95,165.5 631.4,164.61 631.85,163.72 632.3,162.83 632.75,161.95 633.2,161.06 633.65,160.18 634.1,159.29 634.56,158.41 635.02,157.53 635.47,156.65 635.93,155.77 636.39,154.89 636.86,154.02 637.32,153.14 637.79,152.27 638.25,151.39 638.72,150.52 639.2,149.65 639.67,148.78 640.14,147.92 640.62,147.05 641.1,146.19 641.58,145.32 642.07,144.46 642.55,143.6 643.04,142.74 643.53,141.89 644.02,141.03 644.52,140.18 645.02,139.32 645.52,138.47 646.02,137.62 646.53,136.78 647.04,135.93 647.55,135.08 648.07,134.24 648.58,133.4 649.11,132.56 649.63,131.72 650.16,130.88 650.69,130.05 651.22,129.21 651.76,128.38 652.3,127.55 652.84,126.72 653.39,125.9 653.94,125.07 654.5,124.25 655.06,123.43 655.62,122.61 656.19,121.79 656.76,120.98 657.33,120.16 657.91,119.35 658.49,118.54 659.08,117.73 659.67,116.93 660.26,116.12 660.86,115.32 661.47,114.52 662.08,113.72 662.69,112.92 663.31,112.13 663.93,111.33 664.55,110.54 665.18,109.76 665.82,108.97 666.46,108.18 667.11,107.4 667.76,106.62 668.41,105.84 669.07,105.07 669.74,104.29 670.41,103.52 671.09,102.76 671.77,102 672.46,101.24 673.15,100.49 673.85,99.74 674.55,99 675.26,98.26 675.97,97.53 676.7,96.81 677.42,96.1 678.15,95.39 678.89,94.69 679.64,94 680.38,93.32 681.14,92.65 681.9,91.99 682.67,91.33 683.44,90.69 684.23,90.06 685.01,89.45 685.81,88.84 686.6,88.25 687.41,87.67 688.22,87.1 689.04,86.54 689.87,86.01 690.7,85.48 691.54,84.97 692.39,84.47 693.24,83.99 694.1,83.53 694.96,83.08 695.84,82.65 696.72,82.24 697.61,81.85 698.5,81.47 699.4,81.11 700.31,80.77 701.23,80.45 702.16,80.15 703.09,79.87 704.03,79.61 704.97,79.38 705.93,79.16 706.89,78.96 707.86,78.79 708.83,78.64 709.81,78.5 710.79,78.39 711.78,78.3 712.77,78.23 713.77,78.18 714.76,78.15 715.76,78.15 716.76,78.16 717.76,78.19 718.77,78.24 719.77,78.31 720.77,78.41 721.77,78.52 722.77,78.65 723.77,78.81 724.76,78.98 725.75,79.17 726.74,79.38 727.72,79.61 728.7,79.86 729.67,80.13 730.64,80.42 731.6,80.73 732.56,81.06 733.5,81.4 734.44,81.77 735.37,82.15 736.29,82.55 737.21,82.97 738.11,83.41 739,83.87 739.88,84.35 740.75,84.84 741.61,85.36 742.46,85.89 743.3,86.43 744.12,86.99 744.94,87.57 745.74,88.16 746.54,88.76 747.33,89.38 748.1,90.01 748.87,90.65 749.62,91.3 750.37,91.96 751.11,92.64 751.83,93.32 752.55,94.02 753.26,94.72 753.96,95.43 754.65,96.14 755.33,96.87 756,97.6 756.66,98.33 757.32,99.07 757.96,99.82" fill="none" stroke="#ff00ff" stroke-width="1.5" stroke-dasharray="9.4 5.6" stroke-linejoin="round"/>
<path d="M493.45,278.58 494.43,278.45 495.41,278.31 496.39,278.16 497.37,278.01 498.36,277.84 499.34,277.67 500.32,277.5 501.3,277.31 502.28,277.12 503.26,276.92 504.24,276.71 505.21,276.5 506.19,276.27 507.17,276.04 508.14,275.81 509.12,275.56 510.09,275.31 511.06,275.05 512.03,274.78 513,274.5 513.96,274.22 514.92,273.93 515.89,273.63 516.84,273.32 517.8,273 518.75,272.68 519.71,272.35 520.65,272.01 521.6,271.67 522.54,271.31 523.48,270.95 524.42,270.58 525.35,270.2 526.28,269.81 527.2,269.42 528.12,269.01 529.04,268.6 529.95,268.19 530.86,267.76 531.76,267.32 532.66,266.88 533.56,266.43 534.45,265.97 535.33,265.5 536.21,265.03 537.09,264.54 537.95,264.05 538.82,263.55 539.68,263.04 540.53,262.52 541.38,261.99 542.22,261.46 543.05,260.92 543.88,260.37 544.7,259.81 545.52,259.24 546.33,258.66 547.13,258.08 547.93,257.49 548.72,256.89 549.51,256.28 550.29,255.67 551.06,255.05 551.83,254.42 552.59,253.79 553.35,253.14 554.1,252.49 554.85,251.84 555.59,251.18 556.33,250.51 557.06,249.83 557.79,249.15 558.51,248.46 559.22,247.77 559.93,247.07 560.64,246.37 561.34,245.66 562.03,244.94 562.72,244.22 563.41,243.49 564.09,242.76 564.77,242.02 565.44,241.28 566.1,240.54 566.77,239.78 567.42,239.03 568.08,238.27 568.73,237.51 569.37,236.74 570.01,235.96 570.65,235.19 571.28,234.41 571.91,233.63 572.53,232.84 573.15,232.05 573.77,231.25 574.38,230.46 574.99,229.66 575.59,228.85 576.19,228.05 576.79,227.24 577.38,226.43 577.97,225.62 578.56,224.8 579.14,223.98 579.72,223.16 580.3,222.34 580.87,221.52 581.44,220.69 582.01,219.86 582.57,219.04 583.13,218.21 583.69,217.38 584.24,216.54 584.79,215.71 585.34,214.87 585.88,214.04 586.43,213.2 586.97,212.36 587.5,211.52 588.04,210.68 588.57,209.83 589.1,208.99 589.63,208.14 590.15,207.3 590.67,206.45 591.19,205.6 591.71,204.75 592.22,203.9 592.74,203.05 593.25,202.19 593.76,201.34 594.26,200.48 594.77,199.63 595.27,198.77 595.77,197.91 596.27,197.05 596.77,196.2 597.27,195.33 597.76,194.47 598.26,193.61 598.75,192.75 599.24,191.89 599.73,191.02 600.22,190.16 600.7,189.29 601.19,188.42 601.67,187.56 602.15,186.69 602.64,185.82 603.12,184.95 603.6,184.08 604.07,183.21 604.55,182.34 605.03,181.47 605.51,180.6 605.98,179.73 606.46,178.86 606.93,177.99 607.41,177.11 607.88,176.24 608.35,175.37 608.83,174.49 609.3,173.62 609.77,172.74 610.24,171.87 610.71,170.99 611.19,170.12 611.66,169.24 612.13,168.37 612.6,167.49 613.07,166.62 613.55,165.74 614.02,164.87 614.49,163.99 614.96,163.12 615.44,162.24 615.91,161.37 616.38,160.49 616.86,159.61 617.34,158.74 617.81,157.86 618.29,156.99 618.77,156.11 619.24,155.24 619.72,154.36 620.2,153.49 620.68,152.62 621.17,151.74 621.65,150.87 622.13,150 622.62,149.12 623.11,148.25 623.59,147.38 624.08,146.51 624.58,145.64 625.07,144.77 625.56,143.9 626.06,143.03 626.55,142.16 627.05,141.29 627.55,140.42 628.06,139.55 628.56,138.69 629.07,137.82 629.57,136.96 630.08,136.09 630.59,135.23 631.11,134.36 631.62,133.5 632.14,132.64 632.66,131.78 633.19,130.92 633.71,130.06 634.24,129.2 634.77,128.34 635.3,127.49 635.84,126.63 636.38,125.78 636.92,124.92 637.46,124.07 638.01,123.22 638.56,122.37 639.11,121.52 639.66,120.67 640.22,119.82 640.78,118.98 641.35,118.13 641.91,117.29 642.49,116.45 643.06,115.61 643.64,114.77 644.22,113.94 644.8,113.1 645.39,112.28 645.98,111.45 646.58,110.63 647.18,109.81 647.79,108.99 648.4,108.18 649.01,107.37 649.63,106.57 650.25,105.77 650.87,104.97 651.5,104.18 652.14,103.4 652.78,102.62 653.42,101.85 654.07,101.08 654.73,100.31 655.39,99.56 656.05,98.81 656.72,98.06 657.4,97.32 658.08,96.59 658.76,95.87 659.45,95.15 660.15,94.44 660.85,93.74 661.56,93.04 662.28,92.36 663,91.68 663.72,91.01 664.46,90.35 665.19,89.69 665.94,89.05 666.69,88.42 667.45,87.79 668.21,87.17 668.98,86.57 669.76,85.97 670.54,85.38 671.33,84.81 672.13,84.24 672.94,83.69 673.75,83.14 674.57,82.61 675.39,82.09 676.23,81.58 677.07,81.08 677.92,80.59 678.77,80.12 679.63,79.65 680.51,79.2 681.38,78.77 682.27,78.34 683.17,77.93 684.07,77.53 684.98,77.15 685.89,76.77 686.82,76.42 687.75,76.07 688.68,75.74 689.62,75.42 690.57,75.12 691.52,74.83 692.48,74.56 693.44,74.3 694.41,74.06 695.38,73.83 696.35,73.61 697.33,73.41 698.31,73.23 699.3,73.06 700.28,72.91 701.27,72.78 702.26,72.66 703.26,72.55 704.25,72.46 705.25,72.39 706.25,72.34 707.24,72.3 708.24,72.28 709.24,72.28 710.24,72.29 711.24,72.32 712.24,72.37 713.23,72.44 714.23,72.52 715.22,72.62 716.21,72.74 717.2,72.88 718.19,73.03 719.18,73.21 720.16,73.4 721.14,73.61 722.11,73.83 723.08,74.07 724.05,74.33 725.02,74.61 725.97,74.9 726.93,75.21 727.88,75.54 728.82,75.88 729.76,76.24 730.69,76.61 731.61,77 732.53,77.41 733.44,77.83 734.35,78.27 735.25,78.72 736.14,79.19 737.02,79.67 737.89,80.16 738.76,80.68 739.61,81.2 740.46,81.74 741.3,82.3 742.12,82.87 742.94,83.45 743.75,84.05 744.55,84.66 745.33,85.29 746.11,85.93 746.87,86.58 747.63,87.24 748.37,87.92 749.1,88.61 749.81,89.32 750.52,90.04 751.21,90.76 751.88,91.51 752.55,92.26 753.2,93.03 753.83,93.81 754.45,94.6 755.06,95.4 755.65,96.21 756.23,97.04 756.79,97.87 757.34,98.72 757.87,99.58" fill="none" stroke="#0000ff" stroke-width="1.4" stroke-linejoin="round"/>
<path d="M647 220H673.5" stroke="#0000ff" stroke-width="1.4"/>
<text x="674" y="223.2" font-size="10.5" font-family="'Liberation Sans', sans-serif">V<tspan font-size="7" dy="1.5">IN</tspan><tspan dy="-1.5">=5V,V</tspan><tspan font-size="7" dy="1.5">OUT</tspan><tspan dy="-1.5">=1.2V</tspan></text>
<path d="M647 234.5H673.5" stroke="#ff00ff" stroke-width="1.5" stroke-dasharray="9.4 5.6"/>
<text x="674" y="237.7" font-size="10.5" font-family="'Liberation Sans', sans-serif">V<tspan font-size="7" dy="1.5">IN</tspan><tspan dy="-1.5">=12V,V</tspan><tspan font-size="7" dy="1.5">OUT</tspan><tspan dy="-1.5">=1.2V</tspan></text>
<path d="M647 249H670.5" stroke="#008000" stroke-width="1.5" stroke-dasharray="2.2 1.5"/>
<text x="674" y="252.2" font-size="10.5" font-family="'Liberation Sans', sans-serif">V<tspan font-size="7" dy="1.5">IN</tspan><tspan dy="-1.5">=19V,V</tspan><tspan font-size="7" dy="1.5">OUT</tspan><tspan dy="-1.5">=1.2V</tspan></text>
<path d="M647 263.5H673.5" stroke="#800000" stroke-width="1.6" stroke-dasharray="9.5 5.5 1.1 5 1.1 5"/>
<text x="674" y="266.7" font-size="10.5" font-family="'Liberation Sans', sans-serif">V<tspan font-size="7" dy="1.5">IN</tspan><tspan dy="-1.5">=23V,V</tspan><tspan font-size="7" dy="1.5">OUT</tspan><tspan dy="-1.5">=1.2V</tspan></text>
<text x="552.0" y="27.8" font-size="14" font-family="'Liberation Sans', sans-serif">Efficiency vs. Load Current</text>
<text x="575.0" y="41.6" font-size="10.5" font-family="'Liberation Sans', sans-serif">(V<tspan font-size="7" dy="1.6">BYP</tspan><tspan dy="-1.6">=3.3V, MODE=High)</tspan></text>
<text x="634.9" y="320" font-size="14" font-family="'Liberation Sans', sans-serif" text-anchor="middle">Load Current (A)</text>
<text transform="translate(463.9 160.5) rotate(-90)" font-size="14" font-family="'Liberation Sans', sans-serif" text-anchor="middle">Efficiency (%)</text>
<text x="485.6" y="282.7" font-size="10.5" font-family="'Liberation Sans', sans-serif" text-anchor="end">0</text>
<text x="487.4" y="263.3" font-size="10.5" font-family="'Liberation Sans', sans-serif" text-anchor="end">10</text>
<text x="487.4" y="241" font-size="10.5" font-family="'Liberation Sans', sans-serif" text-anchor="end">20</text>
<text x="487.4" y="217.4" font-size="10.5" font-family="'Liberation Sans', sans-serif" text-anchor="end">30</text>
<text x="487.4" y="194.9" font-size="10.5" font-family="'Liberation Sans', sans-serif" text-anchor="end">40</text>
<text x="487.4" y="172" font-size="10.5" font-family="'Liberation Sans', sans-serif" text-anchor="end">50</text>
<text x="487.4" y="149.8" font-size="10.5" font-family="'Liberation Sans', sans-serif" text-anchor="end">60</text>
<text x="487.4" y="126.4" font-size="10.5" font-family="'Liberation Sans', sans-serif" text-anchor="end">70</text>
<text x="487.4" y="103.9" font-size="10.5" font-family="'Liberation Sans', sans-serif" text-anchor="end">80</text>
<text x="487.4" y="81.5" font-size="10.5" font-family="'Liberation Sans', sans-serif" text-anchor="end">90</text>
<text x="488.5" y="59" font-size="10.5" font-family="'Liberation Sans', sans-serif" text-anchor="end">100</text>
<text x="486.6" y="296.6" font-size="10" font-family="'Liberation Sans', sans-serif">0.001</text>
<text x="563.52" y="296.6" font-size="10" font-family="'Liberation Sans', sans-serif" text-anchor="middle">0.01</text>
<text x="633.55" y="296.6" font-size="10" font-family="'Liberation Sans', sans-serif" text-anchor="middle">0.1</text>
<text x="703.58" y="296.6" font-size="10" font-family="'Liberation Sans', sans-serif" text-anchor="middle">1</text>
<text x="774.0" y="296.6" font-size="10" font-family="'Liberation Sans', sans-serif" text-anchor="end">10</text>
<path d="M79 426.5V654M91 426.5V654M99.9 426.5V654M107.2 426.5V654M112.8 426.5V654M117.4 426.5V654M121.2 426.5V654M124.6 426.5V654M127.5 426.5V654M149 426.5V654M161 426.5V654M169.9 426.5V654M177.2 426.5V654M182.8 426.5V654M187.4 426.5V654M191.2 426.5V654M194.6 426.5V654M197.4 426.5V654M218.9 426.5V654M230.9 426.5V654M239.8 426.5V654M247.1 426.5V654M252.7 426.5V654M257.3 426.5V654M261.1 426.5V654M264.5 426.5V654M267.6 426.5V654M288.79 426.5V654M301.19 426.5V654M309.99 426.5V654M316.81 426.5V654M322.38 426.5V654M327.09 426.5V654M331.18 426.5V654M334.78 426.5V654M57.5 459.4H338M57.5 491.8H338M57.5 524.3H338M57.5 555.9H338M57.5 588.6H338M57.5 622.1H338" stroke="#000" stroke-width="1" fill="none"/>
<rect x="183.1" y="566.2" width="124.1" height="59.6" fill="#fff"/>
<rect x="57.5" y="426.5" width="280.5" height="227.5" fill="none" stroke="#000" stroke-width="2.1"/>
<path d="M57.83,626.27 58.18,625.33 58.52,624.39 58.86,623.45 59.19,622.51 59.53,621.56 59.86,620.62 60.19,619.67 60.51,618.73 60.84,617.78 61.16,616.84 61.49,615.89 61.81,614.94 62.12,613.99 62.44,613.05 62.76,612.1 63.07,611.15 63.38,610.2 63.69,609.25 64.01,608.3 64.31,607.35 64.62,606.4 64.93,605.45 65.24,604.5 65.54,603.55 65.85,602.6 66.15,601.65 66.46,600.69 66.76,599.74 67.07,598.79 67.37,597.84 67.67,596.89 67.98,595.94 68.28,594.99 68.58,594.04 68.89,593.09 69.19,592.14 69.49,591.19 69.8,590.24 70.1,589.29 70.41,588.34 70.72,587.39 71.02,586.44 71.33,585.49 71.64,584.55 71.95,583.6 72.26,582.65 72.57,581.71 72.89,580.76 73.2,579.81 73.52,578.87 73.84,577.93 74.15,576.98 74.48,576.04 74.8,575.1 75.12,574.16 75.45,573.22 75.78,572.28 76.11,571.34 76.44,570.4 76.78,569.46 77.11,568.52 77.45,567.59 77.8,566.65 78.14,565.72 78.49,564.79 78.84,563.86 79.19,562.92 79.55,561.99 79.91,561.07 80.27,560.14 80.64,559.21 81,558.29 81.38,557.36 81.75,556.44 82.13,555.52 82.51,554.6 82.9,553.68 83.29,552.76 83.68,551.85 84.08,550.93 84.48,550.02 84.89,549.11 85.3,548.2 85.71,547.29 86.13,546.38 86.55,545.47 86.98,544.57 87.41,543.67 87.85,542.77 88.29,541.87 88.73,540.97 89.18,540.07 89.64,539.18 90.1,538.29 90.56,537.4 91.03,536.51 91.51,535.62 91.99,534.74 92.47,533.86 92.96,532.98 93.45,532.11 93.95,531.23 94.45,530.36 94.95,529.49 95.46,528.63 95.98,527.77 96.5,526.91 97.02,526.05 97.55,525.2 98.08,524.35 98.62,523.51 99.16,522.67 99.7,521.83 100.25,521 100.8,520.17 101.36,519.34 101.92,518.52 102.49,517.7 103.05,516.88 103.63,516.07 104.21,515.27 104.79,514.47 105.37,513.67 105.96,512.88 106.55,512.09 107.15,511.31 107.75,510.53 108.36,509.76 108.98,509 109.6,508.24 110.22,507.49 110.86,506.74 111.5,506 112.14,505.27 112.8,504.54 113.47,503.82 114.14,503.11 114.82,502.41 115.52,501.72 116.22,501.04 116.93,500.36 117.66,499.69 118.39,499.04 119.14,498.39 119.9,497.75 120.68,497.12 121.46,496.51 122.26,495.9 123.06,495.3 123.88,494.71 124.71,494.14 125.55,493.57 126.39,493.01 127.25,492.46 128.11,491.92 128.98,491.39 129.86,490.87 130.75,490.36 131.64,489.86 132.53,489.37 133.43,488.89 134.34,488.42 135.25,487.95 136.16,487.5 137.08,487.05 138,486.62 138.92,486.19 139.84,485.77 140.77,485.36 141.7,484.96 142.62,484.57 143.55,484.18 144.49,483.81 145.42,483.44 146.36,483.08 147.29,482.73 148.23,482.39 149.17,482.05 150.11,481.72 151.06,481.4 152,481.09 152.95,480.78 153.9,480.49 154.85,480.2 155.8,479.91 156.75,479.64 157.7,479.37 158.66,479.1 159.61,478.85 160.57,478.6 161.53,478.36 162.49,478.12 163.45,477.89 164.42,477.66 165.38,477.45 166.35,477.23 167.31,477.03 168.28,476.83 169.25,476.63 170.22,476.44 171.19,476.26 172.16,476.08 173.14,475.91 174.11,475.74 175.09,475.58 176.06,475.42 177.04,475.27 178.02,475.12 179,474.98 179.98,474.84 180.96,474.7 181.95,474.57 182.93,474.45 183.91,474.32 184.9,474.2 185.88,474.09 186.87,473.98 187.86,473.87 188.85,473.77 189.84,473.67 190.83,473.57 191.82,473.48 192.81,473.39 193.8,473.3 194.79,473.22 195.79,473.14 196.78,473.06 197.77,472.98 198.77,472.91 199.76,472.84 200.76,472.77 201.76,472.71 202.75,472.64 203.75,472.58 204.75,472.52 205.75,472.46 206.75,472.41 207.75,472.35 208.75,472.3 209.75,472.25 210.75,472.19 211.75,472.14 212.75,472.1 213.75,472.05 214.75,472 215.75,471.96 216.76,471.91 217.76,471.87 218.76,471.82 219.76,471.78 220.77,471.74 221.77,471.69 222.77,471.65 223.77,471.6 224.78,471.56 225.78,471.52 226.78,471.47 227.79,471.43 228.79,471.38 229.79,471.34 230.79,471.29 231.8,471.24 232.8,471.19 233.8,471.14 234.81,471.09 235.81,471.04 236.81,470.99 237.81,470.93 238.81,470.87 239.81,470.82 240.82,470.76 241.82,470.69 242.82,470.63 243.82,470.56 244.82,470.49 245.82,470.42 246.82,470.35 247.82,470.27 248.81,470.19 249.81,470.11 250.81,470.03 251.81,469.94 252.8,469.85 253.8,469.76 254.79,469.66 255.79,469.56 256.78,469.45 257.78,469.35 258.77,469.24 259.76,469.12 260.75,469 261.74,468.88 262.73,468.75 263.72,468.62 264.71,468.49 265.7,468.35 266.69,468.2 267.67,468.05 268.66,467.9 269.65,467.75 270.63,467.59 271.62,467.44 272.6,467.28 273.59,467.13 274.57,466.97 275.56,466.82 276.55,466.67 277.53,466.52 278.52,466.38 279.51,466.24 280.5,466.1 281.49,465.97 282.48,465.85 283.47,465.73 284.47,465.62 285.46,465.52 286.46,465.43 287.46,465.34 288.45,465.27 289.45,465.21 290.45,465.17 291.45,465.14 292.44,465.13 293.43,465.13 294.42,465.16 295.41,465.21 296.39,465.29 297.36,465.39 298.33,465.52 299.3,465.67 300.25,465.86 301.2,466.07 302.14,466.32 303.08,466.6 304,466.91 304.91,467.25 305.81,467.63 306.7,468.03 307.58,468.46 308.44,468.92 309.3,469.41 310.13,469.93 310.96,470.47 311.76,471.05 312.56,471.65 313.33,472.28 314.09,472.93 314.83,473.61 315.56,474.32 316.26,475.05 316.94,475.81 317.61,476.59 318.25,477.4 318.87,478.23 319.47,479.09 320.05,479.97 320.6,480.87 321.13,481.79 321.64,482.74" fill="none" stroke="#800000" stroke-width="1.6" stroke-dasharray="9.5 5.5 1.1 5 1.1 5" stroke-linejoin="round"/>
<path d="M58.28,599.65 58.64,598.66 58.99,597.68 59.35,596.71 59.7,595.74 60.06,594.77 60.42,593.81 60.78,592.85 61.14,591.9 61.5,590.95 61.86,590 62.22,589.06 62.59,588.12 62.95,587.18 63.31,586.25 63.68,585.32 64.04,584.39 64.41,583.47 64.78,582.55 65.14,581.63 65.51,580.71 65.88,579.8 66.25,578.89 66.61,577.97 66.98,577.07 67.35,576.16 67.72,575.25 68.09,574.35 68.46,573.44 68.83,572.54 69.2,571.64 69.57,570.74 69.94,569.83 70.31,568.93 70.68,568.03 71.05,567.13 71.42,566.23 71.79,565.33 72.16,564.43 72.52,563.53 72.89,562.62 73.26,561.72 73.63,560.81 74,559.91 74.37,559 74.73,558.09 75.1,557.18 75.47,556.27 75.83,555.35 76.2,554.44 76.56,553.52 76.93,552.59 77.29,551.67 77.65,550.74 78.02,549.81 78.38,548.88 78.74,547.95 79.1,547.01 79.46,546.07 79.82,545.12 80.18,544.17 80.54,543.22 80.89,542.27 81.25,541.31 81.61,540.35 81.97,539.4 82.34,538.44 82.7,537.48 83.07,536.52 83.44,535.56 83.81,534.6 84.18,533.64 84.56,532.68 84.94,531.72 85.32,530.77 85.71,529.82 86.1,528.86 86.49,527.92 86.89,526.97 87.3,526.03 87.71,525.09 88.12,524.15 88.54,523.22 88.97,522.29 89.4,521.37 89.84,520.45 90.29,519.54 90.74,518.63 91.2,517.73 91.67,516.84 92.15,515.95 92.63,515.07 93.12,514.2 93.62,513.33 94.13,512.47 94.65,511.62 95.18,510.78 95.72,509.95 96.27,509.13 96.83,508.31 97.4,507.51 97.98,506.71 98.57,505.93 99.17,505.15 99.78,504.39 100.4,503.64 101.03,502.89 101.68,502.16 102.33,501.43 102.99,500.72 103.66,500.01 104.34,499.32 105.04,498.63 105.74,497.95 106.44,497.29 107.16,496.63 107.89,495.98 108.62,495.34 109.37,494.71 110.12,494.09 110.88,493.48 111.65,492.87 112.42,492.28 113.21,491.69 114,491.12 114.8,490.55 115.6,489.99 116.41,489.44 117.23,488.9 118.06,488.36 118.89,487.84 119.73,487.32 120.58,486.81 121.43,486.31 122.29,485.82 123.16,485.34 124.03,484.86 124.91,484.39 125.79,483.94 126.67,483.48 127.57,483.04 128.46,482.6 129.37,482.18 130.28,481.76 131.19,481.34 132.1,480.94 133.03,480.54 133.95,480.15 134.88,479.77 135.81,479.39 136.75,479.03 137.69,478.67 138.64,478.31 139.58,477.97 140.54,477.63 141.49,477.29 142.45,476.97 143.41,476.65 144.37,476.34 145.33,476.03 146.3,475.74 147.27,475.45 148.24,475.16 149.22,474.88 150.19,474.61 151.17,474.35 152.15,474.09 153.13,473.83 154.11,473.59 155.09,473.35 156.07,473.11 157.05,472.88 158.04,472.66 159.02,472.45 160.01,472.24 160.99,472.03 161.98,471.83 162.96,471.64 163.95,471.45 164.94,471.27 165.92,471.1 166.91,470.92 167.9,470.76 168.88,470.6 169.87,470.44 170.86,470.29 171.85,470.14 172.83,470 173.82,469.86 174.81,469.73 175.8,469.6 176.79,469.48 177.78,469.36 178.77,469.24 179.76,469.13 180.75,469.03 181.74,468.92 182.73,468.82 183.72,468.73 184.71,468.63 185.7,468.54 186.69,468.46 187.68,468.38 188.67,468.3 189.66,468.22 190.65,468.15 191.65,468.08 192.64,468.01 193.63,467.95 194.62,467.89 195.61,467.83 196.61,467.77 197.6,467.72 198.59,467.66 199.58,467.61 200.58,467.57 201.57,467.52 202.56,467.48 203.56,467.43 204.55,467.39 205.54,467.36 206.54,467.32 207.53,467.28 208.53,467.25 209.52,467.22 210.52,467.18 211.51,467.15 212.5,467.12 213.5,467.09 214.49,467.07 215.49,467.04 216.48,467.01 217.48,466.99 218.47,466.96 219.47,466.93 220.46,466.91 221.46,466.88 222.45,466.86 223.45,466.83 224.44,466.81 225.44,466.78 226.44,466.76 227.43,466.73 228.43,466.7 229.42,466.68 230.42,466.65 231.42,466.62 232.41,466.59 233.41,466.56 234.4,466.53 235.4,466.49 236.4,466.46 237.39,466.42 238.39,466.39 239.38,466.35 240.38,466.31 241.38,466.27 242.37,466.22 243.37,466.18 244.37,466.13 245.36,466.08 246.36,466.03 247.35,465.97 248.35,465.92 249.35,465.86 250.34,465.8 251.34,465.73 252.34,465.67 253.33,465.6 254.33,465.52 255.33,465.45 256.32,465.37 257.32,465.29 258.31,465.2 259.31,465.11 260.31,465.02 261.3,464.93 262.3,464.83 263.29,464.72 264.29,464.62 265.29,464.5 266.28,464.39 267.28,464.27 268.27,464.15 269.27,464.02 270.26,463.89 271.26,463.75 272.26,463.61 273.25,463.46 274.25,463.31 275.24,463.16 276.24,463 277.23,462.83 278.23,462.66 279.22,462.49 280.22,462.31 281.21,462.14 282.2,461.96 283.2,461.8 284.19,461.64 285.18,461.49 286.17,461.35 287.15,461.22 288.14,461.12 289.12,461.02 290.1,460.95 291.08,460.91 292.06,460.88 293.03,460.88 294.01,460.91 294.97,460.98 295.94,461.07 296.9,461.2 297.86,461.37 298.82,461.57 299.77,461.82 300.72,462.11 301.66,462.45 302.6,462.82 303.53,463.24 304.46,463.69 305.37,464.17 306.28,464.68 307.17,465.21 308.06,465.77 308.92,466.34 309.78,466.94 310.62,467.54 311.44,468.17 312.25,468.81 313.05,469.47 313.82,470.14 314.58,470.82 315.32,471.52 316.04,472.23 316.74,472.95 317.42,473.68 318.08,474.42 318.72,475.17 319.34,475.93 319.94,476.7 320.51,477.48 321.06,478.27 321.59,479.06 322.09,479.85" fill="none" stroke="#008000" stroke-width="1.5" stroke-dasharray="2.2 1.5" stroke-linejoin="round"/>
<path d="M58.65,541.89 59.19,541.03 59.72,540.17 60.23,539.31 60.74,538.44 61.24,537.57 61.73,536.69 62.21,535.81 62.68,534.93 63.15,534.04 63.61,533.15 64.06,532.26 64.51,531.37 64.95,530.47 65.38,529.57 65.81,528.67 66.24,527.77 66.66,526.87 67.08,525.96 67.5,525.06 67.92,524.15 68.33,523.25 68.75,522.34 69.16,521.44 69.57,520.53 69.98,519.63 70.4,518.72 70.81,517.82 71.23,516.91 71.65,516.01 72.07,515.11 72.5,514.21 72.93,513.31 73.37,512.42 73.8,511.53 74.25,510.64 74.7,509.75 75.16,508.86 75.62,507.98 76.09,507.1 76.57,506.23 77.06,505.36 77.55,504.49 78.06,503.63 78.57,502.77 79.1,501.91 79.63,501.07 80.18,500.22 80.74,499.38 81.31,498.55 81.89,497.72 82.48,496.9 83.08,496.08 83.69,495.27 84.31,494.47 84.94,493.68 85.58,492.89 86.23,492.11 86.89,491.33 87.55,490.57 88.23,489.81 88.92,489.06 89.61,488.33 90.32,487.59 91.03,486.87 91.75,486.16 92.48,485.46 93.22,484.77 93.96,484.09 94.71,483.42 95.47,482.75 96.24,482.11 97.02,481.47 97.8,480.84 98.59,480.23 99.39,479.62 100.19,479.03 101,478.45 101.82,477.89 102.64,477.33 103.47,476.79 104.3,476.26 105.14,475.75 105.99,475.24 106.84,474.75 107.7,474.26 108.56,473.79 109.43,473.33 110.31,472.88 111.19,472.44 112.07,472.01 112.96,471.6 113.86,471.19 114.76,470.79 115.66,470.4 116.57,470.03 117.49,469.66 118.41,469.3 119.33,468.95 120.25,468.61 121.19,468.28 122.12,467.96 123.06,467.65 124,467.34 124.95,467.05 125.9,466.76 126.85,466.48 127.81,466.21 128.77,465.95 129.73,465.69 130.69,465.45 131.66,465.21 132.63,464.97 133.61,464.75 134.58,464.53 135.56,464.32 136.54,464.11 137.53,463.91 138.51,463.72 139.5,463.53 140.49,463.35 141.48,463.18 142.47,463.01 143.47,462.84 144.46,462.69 145.46,462.53 146.46,462.39 147.46,462.24 148.46,462.11 149.46,461.97 150.46,461.84 151.47,461.72 152.47,461.6 153.48,461.48 154.48,461.37 155.48,461.26 156.49,461.16 157.49,461.06 158.5,460.96 159.5,460.87 160.51,460.77 161.51,460.68 162.52,460.6 163.52,460.52 164.52,460.44 165.53,460.36 166.53,460.28 167.53,460.21 168.53,460.14 169.54,460.07 170.54,460.01 171.54,459.95 172.54,459.89 173.54,459.83 174.54,459.77 175.55,459.72 176.55,459.67 177.55,459.62 178.55,459.58 179.55,459.53 180.55,459.49 181.55,459.45 182.55,459.41 183.55,459.37 184.54,459.34 185.54,459.3 186.54,459.27 187.54,459.24 188.54,459.21 189.54,459.19 190.54,459.16 191.53,459.14 192.53,459.12 193.53,459.09 194.53,459.07 195.53,459.05 196.52,459.04 197.52,459.02 198.52,459.01 199.51,458.99 200.51,458.98 201.51,458.97 202.51,458.95 203.5,458.94 204.5,458.93 205.49,458.92 206.49,458.91 207.49,458.91 208.48,458.9 209.48,458.89 210.48,458.89 211.47,458.88 212.47,458.87 213.46,458.87 214.46,458.86 215.45,458.86 216.45,458.85 217.45,458.85 218.44,458.84 219.44,458.84 220.43,458.83 221.43,458.83 222.42,458.83 223.42,458.82 224.41,458.81 225.41,458.81 226.4,458.8 227.4,458.8 228.4,458.79 229.39,458.78 230.39,458.77 231.38,458.77 232.38,458.76 233.37,458.75 234.37,458.74 235.36,458.73 236.36,458.71 237.35,458.7 238.35,458.69 239.34,458.67 240.34,458.66 241.33,458.64 242.33,458.62 243.33,458.6 244.32,458.58 245.32,458.56 246.31,458.53 247.31,458.51 248.31,458.48 249.3,458.45 250.3,458.42 251.29,458.39 252.29,458.36 253.29,458.33 254.28,458.29 255.28,458.25 256.28,458.21 257.27,458.17 258.27,458.13 259.27,458.08 260.26,458.03 261.26,457.98 262.26,457.93 263.26,457.88 264.25,457.82 265.25,457.76 266.25,457.7 267.25,457.64 268.24,457.57 269.24,457.5 270.24,457.43 271.24,457.36 272.24,457.28 273.24,457.2 274.24,457.12 275.24,457.03 276.23,456.94 277.23,456.85 278.23,456.76 279.23,456.66 280.23,456.56 281.23,456.46 282.24,456.35 283.24,456.25 284.24,456.13 285.24,456.02 286.24,455.92 287.23,455.82 288.23,455.75 289.22,455.69 290.21,455.66 291.2,455.66 292.18,455.7 293.15,455.78 294.12,455.91 295.09,456.09 296.04,456.32 296.99,456.6 297.93,456.92 298.87,457.29 299.79,457.69 300.71,458.13 301.62,458.6 302.52,459.1 303.4,459.62 304.29,460.17 305.16,460.73 306.02,461.31 306.87,461.91 307.71,462.52 308.53,463.14 309.35,463.78 310.16,464.42 310.96,465.08 311.74,465.75 312.52,466.43 313.28,467.11 314.03,467.8 314.77,468.5 315.5,469.21 316.22,469.92 316.92,470.63 317.61,471.35 318.29,472.07 318.96,472.79 319.61,473.51 320.25,474.23 320.88,474.95 321.5,475.67 322.1,476.38" fill="none" stroke="#ff00ff" stroke-width="1.5" stroke-dasharray="9.4 5.6" stroke-linejoin="round"/>
<path d="M57.53,485.18 58.11,484.35 58.71,483.53 59.31,482.72 59.93,481.91 60.55,481.12 61.19,480.33 61.83,479.55 62.48,478.78 63.15,478.02 63.82,477.27 64.51,476.53 65.2,475.79 65.9,475.07 66.61,474.36 67.33,473.65 68.06,472.96 68.8,472.28 69.54,471.6 70.3,470.94 71.06,470.29 71.83,469.65 72.61,469.02 73.4,468.4 74.19,467.79 75,467.2 75.81,466.61 76.63,466.04 77.45,465.48 78.28,464.93 79.12,464.39 79.97,463.86 80.82,463.35 81.68,462.85 82.55,462.36 83.42,461.89 84.3,461.43 85.19,460.98 86.08,460.54 86.98,460.12 87.88,459.71 88.79,459.31 89.71,458.93 90.63,458.57 91.55,458.21 92.48,457.87 93.42,457.54 94.36,457.23 95.31,456.93 96.26,456.64 97.21,456.36 98.17,456.1 99.13,455.84 100.09,455.6 101.06,455.36 102.03,455.14 103.01,454.92 103.98,454.72 104.96,454.52 105.94,454.32 106.93,454.14 107.91,453.96 108.9,453.79 109.89,453.63 110.88,453.47 111.87,453.32 112.86,453.17 113.86,453.03 114.85,452.89 115.84,452.75 116.84,452.62 117.83,452.49 118.83,452.36 119.82,452.24 120.82,452.12 121.81,452.01 122.81,451.89 123.8,451.78 124.8,451.68 125.79,451.57 126.79,451.47 127.78,451.37 128.78,451.28 129.78,451.19 130.77,451.1 131.77,451.01 132.77,450.93 133.76,450.85 134.76,450.77 135.76,450.69 136.75,450.62 137.75,450.55 138.75,450.48 139.75,450.41 140.75,450.34 141.74,450.28 142.74,450.22 143.74,450.16 144.74,450.11 145.74,450.05 146.73,450 147.73,449.95 148.73,449.9 149.73,449.85 150.73,449.81 151.73,449.77 152.73,449.72 153.73,449.68 154.73,449.64 155.72,449.61 156.72,449.57 157.72,449.54 158.72,449.5 159.72,449.47 160.72,449.44 161.72,449.41 162.72,449.38 163.72,449.35 164.72,449.33 165.72,449.3 166.72,449.28 167.72,449.25 168.72,449.23 169.72,449.21 170.71,449.18 171.71,449.16 172.71,449.14 173.71,449.12 174.71,449.1 175.71,449.08 176.71,449.06 177.71,449.05 178.71,449.03 179.71,449.01 180.71,448.99 181.71,448.97 182.7,448.95 183.7,448.94 184.7,448.92 185.7,448.9 186.7,448.88 187.7,448.86 188.7,448.84 189.69,448.83 190.69,448.81 191.69,448.79 192.69,448.77 193.69,448.74 194.68,448.72 195.68,448.7 196.68,448.68 197.68,448.66 198.67,448.64 199.67,448.62 200.67,448.59 201.67,448.57 202.66,448.55 203.66,448.53 204.66,448.5 205.66,448.48 206.65,448.46 207.65,448.44 208.65,448.41 209.64,448.39 210.64,448.37 211.64,448.35 212.63,448.33 213.63,448.3 214.63,448.28 215.62,448.26 216.62,448.24 217.62,448.22 218.62,448.2 219.61,448.18 220.61,448.16 221.61,448.14 222.6,448.12 223.6,448.1 224.6,448.09 225.59,448.07 226.59,448.05 227.59,448.04 228.58,448.02 229.58,448.01 230.58,447.99 231.58,447.98 232.57,447.96 233.57,447.95 234.57,447.94 235.57,447.93 236.56,447.92 237.56,447.91 238.56,447.9 239.56,447.89 240.56,447.89 241.55,447.88 242.55,447.88 243.55,447.87 244.55,447.87 245.55,447.86 246.55,447.86 247.55,447.86 248.55,447.85 249.55,447.85 250.55,447.84 251.55,447.84 252.56,447.83 253.56,447.83 254.56,447.82 255.57,447.81 256.57,447.8 257.58,447.79 258.59,447.78 259.6,447.77 260.61,447.75 261.62,447.73 262.63,447.72 263.64,447.7 264.65,447.68 265.66,447.67 266.68,447.66 267.69,447.65 268.7,447.64 269.71,447.64 270.72,447.64 271.73,447.65 272.74,447.67 273.74,447.69 274.75,447.72 275.75,447.76 276.75,447.81 277.75,447.87 278.74,447.94 279.73,448.02 280.72,448.12 281.71,448.22 282.69,448.34 283.67,448.48 284.65,448.63 285.62,448.79 286.59,448.97 287.55,449.17 288.51,449.39 289.46,449.62 290.41,449.88 291.36,450.15 292.29,450.44 293.23,450.75 294.15,451.07 295.07,451.42 295.98,451.78 296.89,452.16 297.79,452.56 298.68,452.98 299.56,453.41 300.43,453.86 301.3,454.33 302.16,454.81 303.01,455.31 303.85,455.83 304.67,456.37 305.49,456.92 306.3,457.49 307.1,458.08 307.89,458.68 308.67,459.3 309.43,459.93 310.19,460.58 310.93,461.25 311.66,461.93 312.38,462.63 313.09,463.35 313.78,464.08 314.46,464.82 315.12,465.58 315.77,466.36 316.41,467.15 317.04,467.96 317.64,468.78 318.24,469.62 318.82,470.47 319.38,471.34 319.93,472.22 320.46,473.11 320.97,474.02 321.47,474.95 321.95,475.88" fill="none" stroke="#0000ff" stroke-width="1.4" stroke-linejoin="round"/>
<path d="M187 574.7H214" stroke="#0000ff" stroke-width="1.4"/>
<text x="216.4" y="577.9" font-size="10.5" font-family="'Liberation Sans', sans-serif">V<tspan font-size="7" dy="1.5">IN</tspan><tspan dy="-1.5">=5V,V</tspan><tspan font-size="7" dy="1.5">OUT</tspan><tspan dy="-1.5">=1.8V</tspan></text>
<path d="M187 589.2H214" stroke="#ff00ff" stroke-width="1.5" stroke-dasharray="9.4 5.6"/>
<text x="216.4" y="592.4" font-size="10.5" font-family="'Liberation Sans', sans-serif">V<tspan font-size="7" dy="1.5">IN</tspan><tspan dy="-1.5">=12V,V</tspan><tspan font-size="7" dy="1.5">OUT</tspan><tspan dy="-1.5">=1.8V</tspan></text>
<path d="M187 603.9H211" stroke="#008000" stroke-width="1.5" stroke-dasharray="2.2 1.5"/>
<text x="216.4" y="607.1" font-size="10.5" font-family="'Liberation Sans', sans-serif">V<tspan font-size="7" dy="1.5">IN</tspan><tspan dy="-1.5">=19V,V</tspan><tspan font-size="7" dy="1.5">OUT</tspan><tspan dy="-1.5">=1.8V</tspan></text>
<path d="M187 618.8H214" stroke="#800000" stroke-width="1.6" stroke-dasharray="9.5 5.5 1.1 5 1.1 5"/>
<text x="216.4" y="622" font-size="10.5" font-family="'Liberation Sans', sans-serif">V<tspan font-size="7" dy="1.5">IN</tspan><tspan dy="-1.5">=23V,V</tspan><tspan font-size="7" dy="1.5">OUT</tspan><tspan dy="-1.5">=1.8V</tspan></text>
<text x="116.3" y="401.8" font-size="14" font-family="'Liberation Sans', sans-serif">Efficiency vs. Load Current</text>
<text x="141.0" y="416.1" font-size="10.5" font-family="'Liberation Sans', sans-serif">(V<tspan font-size="7" dy="1.6">BYP</tspan><tspan dy="-1.6">=3.3V, MODE=Low)</tspan></text>
<text x="199.5" y="691.9" font-size="14" font-family="'Liberation Sans', sans-serif" text-anchor="middle">Load Current (A)</text>
<text transform="translate(28.8 532.3) rotate(-90)" font-size="14" font-family="'Liberation Sans', sans-serif" text-anchor="middle">Efficiency (%)</text>
<text x="53.4" y="654.4" font-size="10.5" font-family="'Liberation Sans', sans-serif" text-anchor="end">30</text>
<text x="53.4" y="625.6" font-size="10.5" font-family="'Liberation Sans', sans-serif" text-anchor="end">40</text>
<text x="53.4" y="592.1" font-size="10.5" font-family="'Liberation Sans', sans-serif" text-anchor="end">50</text>
<text x="53.4" y="559.4" font-size="10.5" font-family="'Liberation Sans', sans-serif" text-anchor="end">60</text>
<text x="53.4" y="527.8" font-size="10.5" font-family="'Liberation Sans', sans-serif" text-anchor="end">70</text>
<text x="53.4" y="495.3" font-size="10.5" font-family="'Liberation Sans', sans-serif" text-anchor="end">80</text>
<text x="53.4" y="462.9" font-size="10.5" font-family="'Liberation Sans', sans-serif" text-anchor="end">90</text>
<text x="54.5" y="431.7" font-size="10.5" font-family="'Liberation Sans', sans-serif" text-anchor="end">100</text>
<text x="53.6" y="667.8" font-size="10" font-family="'Liberation Sans', sans-serif">0.001</text>
<text x="127.62" y="667.8" font-size="10" font-family="'Liberation Sans', sans-serif" text-anchor="middle">0.01</text>
<text x="197.75" y="667.8" font-size="10" font-family="'Liberation Sans', sans-serif" text-anchor="middle">0.1</text>
<text x="267.88" y="667.8" font-size="10" font-family="'Liberation Sans', sans-serif" text-anchor="middle">1</text>
<text x="338.6" y="667.8" font-size="10" font-family="'Liberation Sans', sans-serif" text-anchor="end">10</text>
<path d="M514.54 425.8V652.6M526.85 425.8V652.6M535.58 425.8V652.6M542.36 425.8V652.6M547.89 425.8V652.6M552.57 425.8V652.6M556.63 425.8V652.6M560.2 425.8V652.6M563.4 425.8V652.6M584.44 425.8V652.6M596.75 425.8V652.6M605.48 425.8V652.6M612.26 425.8V652.6M617.79 425.8V652.6M622.47 425.8V652.6M626.53 425.8V652.6M630.1 425.8V652.6M633.3 425.8V652.6M654.4 425.8V652.6M666.75 425.8V652.6M675.5 425.8V652.6M682.3 425.8V652.6M687.85 425.8V652.6M692.54 425.8V652.6M696.61 425.8V652.6M700.19 425.8V652.6M703.4 425.8V652.6M724.35 425.8V652.6M736.61 425.8V652.6M745.3 425.8V652.6M752.05 425.8V652.6M757.56 425.8V652.6M762.22 425.8V652.6M766.26 425.8V652.6M769.82 425.8V652.6M493.5 449.1H773M493.5 470.5H773M493.5 493.5H773M493.5 517H773M493.5 539H773M493.5 561.5H773M493.5 584.5H773M493.5 607.1H773M493.5 630.3H773" stroke="#000" stroke-width="1" fill="none"/>
<rect x="643.4" y="583.4" width="122.6" height="60.6" fill="#fff"/>
<rect x="493.5" y="425.8" width="279.5" height="226.8" fill="none" stroke="#000" stroke-width="2.1"/>
<path d="M493.32,652.25 494.29,652.18 495.26,652.11 496.23,652.05 497.21,651.97 498.18,651.9 499.16,651.83 500.14,651.76 501.13,651.68 502.11,651.6 503.1,651.52 504.09,651.44 505.08,651.36 506.07,651.27 507.06,651.19 508.05,651.1 509.05,651.01 510.04,650.91 511.04,650.82 512.04,650.72 513.03,650.62 514.03,650.51 515.03,650.4 516.03,650.29 517.03,650.18 518.03,650.06 519.03,649.94 520.03,649.82 521.04,649.69 522.04,649.56 523.04,649.42 524.04,649.28 525.04,649.14 526.04,648.99 527.04,648.84 528.03,648.68 529.03,648.52 530.03,648.35 531.02,648.18 532.02,648.01 533.01,647.83 534,647.64 534.99,647.45 535.98,647.25 536.97,647.05 537.96,646.84 538.94,646.63 539.93,646.41 540.91,646.19 541.89,645.96 542.86,645.72 543.84,645.48 544.81,645.23 545.78,644.97 546.75,644.71 547.72,644.44 548.68,644.16 549.64,643.88 550.6,643.59 551.55,643.3 552.5,642.99 553.45,642.68 554.4,642.36 555.34,642.03 556.28,641.7 557.21,641.36 558.14,641.01 559.07,640.65 559.99,640.28 560.91,639.91 561.83,639.53 562.74,639.14 563.65,638.74 564.55,638.33 565.45,637.91 566.35,637.49 567.24,637.05 568.13,636.61 569.01,636.15 569.88,635.69 570.76,635.22 571.62,634.74 572.49,634.25 573.34,633.75 574.19,633.24 575.04,632.72 575.88,632.19 576.72,631.66 577.55,631.11 578.38,630.56 579.21,630 580.02,629.44 580.84,628.86 581.64,628.28 582.45,627.69 583.25,627.09 584.04,626.48 584.83,625.87 585.61,625.25 586.39,624.63 587.17,623.99 587.94,623.35 588.7,622.71 589.46,622.06 590.22,621.4 590.97,620.74 591.71,620.07 592.45,619.39 593.19,618.71 593.92,618.03 594.65,617.34 595.37,616.64 596.08,615.94 596.8,615.24 597.5,614.53 598.21,613.82 598.9,613.1 599.6,612.38 600.29,611.65 600.97,610.92 601.65,610.19 602.32,609.45 602.99,608.71 603.66,607.97 604.32,607.22 604.97,606.47 605.63,605.71 606.27,604.95 606.92,604.19 607.56,603.43 608.19,602.66 608.82,601.89 609.45,601.11 610.07,600.34 610.69,599.55 611.3,598.77 611.92,597.98 612.52,597.19 613.13,596.4 613.72,595.6 614.32,594.8 614.91,594 615.5,593.2 616.08,592.39 616.67,591.58 617.24,590.77 617.82,589.95 618.39,589.14 618.96,588.31 619.52,587.49 620.08,586.67 620.64,585.84 621.19,585.01 621.75,584.18 622.29,583.34 622.84,582.51 623.38,581.67 623.92,580.83 624.46,579.99 624.99,579.14 625.52,578.29 626.05,577.45 626.58,576.6 627.1,575.74 627.62,574.89 628.14,574.03 628.65,573.18 629.17,572.32 629.68,571.46 630.19,570.59 630.69,569.73 631.2,568.87 631.7,568 632.2,567.13 632.69,566.26 633.19,565.39 633.68,564.52 634.17,563.65 634.66,562.77 635.15,561.9 635.63,561.02 636.12,560.15 636.6,559.27 637.08,558.39 637.56,557.51 638.04,556.63 638.51,555.75 638.99,554.86 639.46,553.98 639.93,553.1 640.4,552.21 640.87,551.33 641.34,550.45 641.8,549.56 642.27,548.67 642.73,547.79 643.19,546.9 643.66,546.01 644.12,545.13 644.58,544.24 645.03,543.35 645.49,542.47 645.95,541.58 646.41,540.69 646.86,539.8 647.32,538.92 647.77,538.03 648.23,537.14 648.68,536.25 649.14,535.37 649.59,534.48 650.05,533.59 650.5,532.71 650.96,531.82 651.41,530.94 651.87,530.05 652.32,529.17 652.78,528.28 653.24,527.4 653.7,526.51 654.15,525.63 654.61,524.75 655.07,523.87 655.54,522.99 656,522.11 656.46,521.23 656.93,520.35 657.39,519.47 657.86,518.59 658.33,517.71 658.8,516.84 659.27,515.96 659.75,515.09 660.22,514.22 660.7,513.35 661.18,512.48 661.66,511.61 662.14,510.74 662.63,509.87 663.12,509 663.61,508.14 664.1,507.27 664.6,506.41 665.1,505.55 665.6,504.69 666.1,503.83 666.61,502.98 667.12,502.12 667.63,501.27 668.15,500.41 668.66,499.56 669.19,498.71 669.71,497.87 670.24,497.02 670.77,496.17 671.31,495.33 671.85,494.49 672.39,493.65 672.94,492.81 673.49,491.98 674.05,491.15 674.61,490.31 675.17,489.48 675.74,488.66 676.31,487.83 676.89,487.01 677.47,486.18 678.06,485.37 678.65,484.55 679.24,483.73 679.84,482.92 680.45,482.11 681.06,481.3 681.67,480.49 682.29,479.69 682.92,478.89 683.55,478.09 684.19,477.3 684.83,476.51 685.48,475.73 686.13,474.95 686.79,474.17 687.46,473.41 688.13,472.65 688.81,471.89 689.5,471.15 690.19,470.41 690.89,469.68 691.59,468.95 692.31,468.24 693.03,467.54 693.75,466.84 694.49,466.16 695.23,465.49 695.98,464.83 696.74,464.18 697.5,463.54 698.28,462.92 699.06,462.31 699.85,461.71 700.65,461.12 701.46,460.55 702.27,460 703.1,459.46 703.93,458.93 704.78,458.43 705.63,457.93 706.49,457.46 707.36,457 708.24,456.56 709.13,456.14 710.03,455.74 710.94,455.35 711.85,454.99 712.78,454.64 713.71,454.31 714.64,454 715.59,453.72 716.54,453.45 717.5,453.2 718.46,452.97 719.42,452.76 720.39,452.57 721.37,452.4 722.34,452.25 723.32,452.13 724.3,452.02 725.29,451.94 726.27,451.87 727.26,451.83 728.25,451.81 729.23,451.82 730.22,451.84 731.21,451.89 732.19,451.96 733.18,452.05 734.16,452.17 735.14,452.31 736.11,452.47 737.08,452.66 738.05,452.87 739.01,453.1 739.97,453.36 740.93,453.64 741.87,453.94 742.81,454.27 743.75,454.63 744.68,455.01 745.6,455.41 746.51,455.84 747.41,456.29 748.3,456.77 749.18,457.27 750.05,457.8 750.92,458.35 751.77,458.92 752.6,459.52 753.43,460.15 754.24,460.8 755.04,461.48 755.82,462.18 756.59,462.9 757.35,463.65 758.09,464.43 758.81,465.23" fill="none" stroke="#800000" stroke-width="1.6" stroke-dasharray="9.5 5.5 1.1 5 1.1 5" stroke-linejoin="round"/>
<path d="M493.29,651.69 494.3,651.68 495.31,651.67 496.32,651.65 497.32,651.63 498.33,651.59 499.33,651.56 500.33,651.51 501.34,651.46 502.34,651.4 503.34,651.33 504.33,651.26 505.33,651.18 506.33,651.1 507.32,651.01 508.32,650.91 509.31,650.81 510.3,650.69 511.3,650.58 512.29,650.45 513.28,650.33 514.26,650.19 515.25,650.05 516.24,649.9 517.22,649.75 518.2,649.59 519.19,649.42 520.17,649.25 521.15,649.07 522.13,648.89 523.1,648.7 524.08,648.5 525.06,648.3 526.03,648.09 527,647.88 527.97,647.66 528.95,647.44 529.91,647.21 530.88,646.98 531.85,646.73 532.81,646.49 533.78,646.24 534.74,645.98 535.7,645.72 536.66,645.45 537.62,645.18 538.58,644.9 539.54,644.62 540.49,644.33 541.44,644.03 542.4,643.74 543.35,643.43 544.3,643.12 545.24,642.81 546.19,642.49 547.14,642.17 548.08,641.84 549.02,641.51 549.96,641.17 550.9,640.82 551.84,640.48 552.78,640.12 553.71,639.77 554.64,639.41 555.58,639.04 556.51,638.67 557.44,638.29 558.36,637.91 559.29,637.53 560.21,637.14 561.14,636.75 562.06,636.35 562.98,635.95 563.9,635.54 564.81,635.13 565.72,634.71 566.64,634.29 567.54,633.86 568.45,633.43 569.35,632.99 570.24,632.54 571.14,632.09 572.02,631.63 572.91,631.16 573.79,630.69 574.66,630.2 575.53,629.71 576.39,629.21 577.25,628.7 578.1,628.18 578.95,627.66 579.79,627.12 580.62,626.57 581.44,626.02 582.26,625.45 583.07,624.88 583.87,624.29 584.66,623.69 585.45,623.08 586.22,622.46 586.99,621.83 587.75,621.19 588.51,620.53 589.25,619.87 589.99,619.2 590.72,618.53 591.44,617.84 592.16,617.15 592.87,616.44 593.58,615.74 594.28,615.02 594.97,614.3 595.66,613.57 596.34,612.84 597.02,612.11 597.69,611.37 598.35,610.62 599.02,609.87 599.67,609.12 600.33,608.36 600.98,607.61 601.62,606.84 602.26,606.08 602.9,605.31 603.53,604.54 604.16,603.77 604.78,602.99 605.4,602.21 606.02,601.43 606.63,600.65 607.24,599.86 607.84,599.07 608.44,598.28 609.04,597.48 609.63,596.68 610.22,595.88 610.81,595.08 611.39,594.27 611.97,593.46 612.55,592.65 613.12,591.84 613.69,591.03 614.26,590.21 614.82,589.39 615.38,588.57 615.94,587.74 616.49,586.92 617.04,586.09 617.59,585.26 618.13,584.43 618.68,583.59 619.22,582.76 619.75,581.92 620.29,581.08 620.82,580.23 621.35,579.39 621.88,578.55 622.4,577.7 622.92,576.85 623.44,576 623.96,575.15 624.47,574.29 624.99,573.44 625.5,572.58 626.01,571.72 626.51,570.86 627.02,570 627.52,569.14 628.02,568.27 628.52,567.41 629.02,566.54 629.51,565.68 630.01,564.81 630.5,563.94 630.99,563.07 631.48,562.19 631.97,561.32 632.45,560.45 632.94,559.57 633.42,558.7 633.9,557.82 634.39,556.94 634.87,556.06 635.34,555.19 635.82,554.31 636.3,553.43 636.77,552.54 637.25,551.66 637.72,550.78 638.2,549.9 638.67,549.02 639.14,548.13 639.61,547.25 640.08,546.36 640.55,545.48 641.02,544.59 641.49,543.71 641.96,542.82 642.43,541.94 642.9,541.05 643.36,540.17 643.83,539.28 644.3,538.39 644.76,537.51 645.23,536.62 645.7,535.74 646.17,534.85 646.63,533.96 647.1,533.08 647.57,532.19 648.04,531.31 648.51,530.42 648.98,529.54 649.44,528.66 649.91,527.77 650.38,526.89 650.86,526.01 651.33,525.12 651.8,524.24 652.27,523.36 652.75,522.48 653.22,521.6 653.7,520.72 654.17,519.85 654.65,518.97 655.13,518.09 655.61,517.22 656.09,516.34 656.57,515.47 657.05,514.6 657.54,513.72 658.02,512.85 658.51,511.98 659,511.12 659.49,510.25 659.98,509.38 660.47,508.52 660.97,507.65 661.46,506.79 661.96,505.93 662.46,505.07 662.97,504.22 663.47,503.36 663.98,502.51 664.49,501.65 665.01,500.8 665.52,499.96 666.04,499.11 666.56,498.26 667.09,497.42 667.62,496.58 668.15,495.74 668.68,494.91 669.22,494.07 669.76,493.24 670.31,492.41 670.86,491.59 671.41,490.76 671.97,489.94 672.53,489.12 673.1,488.31 673.67,487.49 674.24,486.68 674.82,485.87 675.4,485.07 675.99,484.27 676.58,483.47 677.18,482.67 677.78,481.88 678.39,481.09 679,480.3 679.62,479.52 680.24,478.74 680.87,477.96 681.5,477.19 682.14,476.42 682.79,475.65 683.44,474.89 684.09,474.13 684.76,473.38 685.43,472.63 686.1,471.88 686.78,471.14 687.47,470.4 688.17,469.66 688.87,468.93 689.58,468.21 690.29,467.49 691.01,466.78 691.74,466.08 692.48,465.38 693.22,464.69 693.97,464.01 694.72,463.34 695.49,462.68 696.26,462.03 697.03,461.39 697.82,460.77 698.61,460.15 699.41,459.55 700.22,458.96 701.03,458.38 701.85,457.82 702.68,457.27 703.52,456.74 704.37,456.23 705.22,455.73 706.08,455.25 706.95,454.78 707.82,454.34 708.71,453.91 709.6,453.5 710.5,453.11 711.41,452.75 712.33,452.4 713.25,452.07 714.19,451.77 715.13,451.49 716.08,451.23 717.04,450.99 718,450.78 718.97,450.59 719.95,450.42 720.93,450.28 721.92,450.16 722.91,450.06 723.91,449.98 724.91,449.92 725.91,449.89 726.91,449.88 727.92,449.89 728.92,449.92 729.93,449.98 730.93,450.05 731.94,450.15 732.94,450.27 733.94,450.41 734.93,450.58 735.93,450.76 736.92,450.97 737.9,451.19 738.88,451.44 739.85,451.71 740.82,452 741.78,452.31 742.74,452.64 743.68,452.99 744.62,453.37 745.54,453.76 746.46,454.17 747.36,454.61 748.26,455.06 749.14,455.54 750.01,456.03 750.87,456.55 751.72,457.09 752.55,457.64 753.36,458.22 754.16,458.81 754.95,459.43 755.72,460.06 756.47,460.72 757.2,461.39 757.92,462.08 758.62,462.79" fill="none" stroke="#008000" stroke-width="1.5" stroke-dasharray="2.2 1.5" stroke-linejoin="round"/>
<path d="M493.28,651.09 494.27,651.04 495.25,650.99 496.24,650.93 497.23,650.87 498.22,650.81 499.21,650.74 500.21,650.66 501.2,650.58 502.19,650.5 503.19,650.41 504.18,650.31 505.18,650.21 506.17,650.11 507.17,650 508.16,649.89 509.16,649.77 510.15,649.64 511.15,649.52 512.14,649.38 513.13,649.24 514.13,649.1 515.12,648.94 516.11,648.79 517.11,648.63 518.1,648.46 519.09,648.29 520.08,648.11 521.07,647.92 522.05,647.73 523.04,647.54 524.02,647.34 525.01,647.13 525.99,646.91 526.97,646.7 527.95,646.47 528.93,646.24 529.9,646 530.88,645.76 531.85,645.5 532.82,645.25 533.79,644.98 534.75,644.71 535.72,644.44 536.68,644.16 537.64,643.87 538.59,643.57 539.55,643.27 540.5,642.96 541.44,642.64 542.39,642.32 543.33,641.99 544.27,641.65 545.21,641.31 546.14,640.96 547.07,640.6 548,640.23 548.92,639.86 549.84,639.48 550.76,639.09 551.67,638.7 552.58,638.3 553.48,637.89 554.38,637.47 555.28,637.05 556.17,636.61 557.06,636.17 557.95,635.73 558.83,635.27 559.7,634.81 560.57,634.34 561.44,633.86 562.3,633.37 563.16,632.87 564.01,632.37 564.86,631.86 565.7,631.34 566.54,630.81 567.37,630.28 568.2,629.73 569.02,629.18 569.84,628.62 570.65,628.05 571.45,627.47 572.25,626.88 573.05,626.29 573.84,625.68 574.62,625.07 575.4,624.46 576.17,623.83 576.94,623.2 577.7,622.56 578.46,621.91 579.21,621.25 579.96,620.59 580.7,619.93 581.44,619.25 582.17,618.57 582.9,617.88 583.62,617.19 584.33,616.49 585.05,615.79 585.75,615.08 586.45,614.36 587.15,613.64 587.84,612.92 588.53,612.18 589.21,611.45 589.89,610.71 590.56,609.96 591.23,609.22 591.9,608.46 592.56,607.7 593.21,606.94 593.86,606.18 594.51,605.41 595.15,604.64 595.79,603.86 596.42,603.08 597.05,602.3 597.67,601.52 598.29,600.73 598.91,599.94 599.52,599.15 600.12,598.35 600.73,597.56 601.33,596.75 601.92,595.95 602.51,595.15 603.1,594.34 603.68,593.53 604.26,592.71 604.84,591.9 605.41,591.08 605.98,590.26 606.55,589.44 607.11,588.61 607.67,587.79 608.22,586.96 608.78,586.13 609.33,585.29 609.87,584.46 610.42,583.62 610.96,582.78 611.49,581.94 612.03,581.1 612.56,580.25 613.09,579.41 613.61,578.56 614.14,577.71 614.66,576.86 615.18,576.01 615.69,575.15 616.21,574.3 616.72,573.44 617.23,572.58 617.73,571.72 618.24,570.86 618.74,570 619.24,569.14 619.74,568.27 620.24,567.41 620.73,566.54 621.22,565.67 621.72,564.8 622.21,563.93 622.69,563.06 623.18,562.19 623.66,561.32 624.15,560.44 624.63,559.57 625.11,558.69 625.59,557.82 626.07,556.94 626.55,556.06 627.02,555.19 627.5,554.31 627.97,553.43 628.44,552.55 628.92,551.67 629.39,550.79 629.86,549.91 630.33,549.03 630.8,548.15 631.27,547.27 631.73,546.39 632.2,545.51 632.67,544.63 633.14,543.75 633.6,542.87 634.07,541.99 634.54,541.11 635,540.23 635.47,539.35 635.93,538.47 636.4,537.59 636.87,536.71 637.33,535.83 637.8,534.95 638.27,534.07 638.74,533.2 639.2,532.32 639.67,531.44 640.14,530.57 640.61,529.69 641.08,528.82 641.55,527.94 642.03,527.07 642.5,526.2 642.97,525.33 643.45,524.46 643.92,523.59 644.4,522.72 644.88,521.85 645.36,520.99 645.84,520.12 646.32,519.26 646.8,518.39 647.29,517.53 647.77,516.67 648.26,515.8 648.75,514.94 649.24,514.08 649.73,513.23 650.22,512.37 650.72,511.51 651.22,510.65 651.72,509.8 652.22,508.94 652.72,508.09 653.22,507.24 653.73,506.38 654.24,505.53 654.75,504.68 655.26,503.83 655.78,502.98 656.3,502.13 656.82,501.29 657.34,500.44 657.86,499.59 658.39,498.75 658.92,497.9 659.45,497.06 659.99,496.22 660.52,495.38 661.06,494.53 661.61,493.69 662.15,492.85 662.7,492.01 663.26,491.18 663.81,490.34 664.37,489.5 664.93,488.66 665.49,487.83 666.06,486.99 666.63,486.16 667.2,485.33 667.78,484.49 668.36,483.66 668.95,482.83 669.53,482 670.13,481.17 670.72,480.34 671.32,479.51 671.92,478.68 672.53,477.86 673.14,477.04 673.75,476.22 674.37,475.4 675,474.59 675.62,473.78 676.26,472.97 676.9,472.17 677.54,471.38 678.19,470.59 678.84,469.81 679.5,469.03 680.16,468.26 680.83,467.49 681.51,466.73 682.19,465.98 682.87,465.24 683.57,464.51 684.27,463.78 684.97,463.07 685.68,462.36 686.4,461.67 687.13,460.98 687.86,460.31 688.6,459.64 689.34,458.99 690.1,458.35 690.86,457.72 691.63,457.1 692.4,456.5 693.18,455.91 693.97,455.33 694.77,454.77 695.58,454.22 696.39,453.69 697.22,453.17 698.05,452.67 698.89,452.18 699.74,451.71 700.59,451.26 701.46,450.82 702.34,450.4 703.22,450 704.11,449.62 705.02,449.25 705.93,448.91 706.84,448.58 707.77,448.27 708.7,447.98 709.64,447.7 710.59,447.45 711.54,447.21 712.5,447 713.47,446.8 714.43,446.62 715.41,446.46 716.38,446.31 717.36,446.19 718.35,446.08 719.33,446 720.32,445.93 721.31,445.88 722.31,445.85 723.3,445.84 724.3,445.85 725.29,445.88 726.28,445.93 727.28,445.99 728.27,446.08 729.26,446.18 730.26,446.3 731.24,446.45 732.23,446.61 733.21,446.79 734.19,446.99 735.17,447.21 736.14,447.45 737.11,447.71 738.07,447.99 739.03,448.29 739.99,448.61 740.93,448.95 741.87,449.31 742.8,449.69 743.73,450.08 744.65,450.5 745.56,450.94 746.46,451.4 747.35,451.87 748.24,452.37 749.11,452.89 749.97,453.43 750.83,453.99 751.67,454.56 752.5,455.16 753.32,455.78 754.13,456.42 754.92,457.08 755.7,457.76 756.47,458.46 757.23,459.18 757.97,459.92 758.7,460.68" fill="none" stroke="#ff00ff" stroke-width="1.5" stroke-dasharray="9.4 5.6" stroke-linejoin="round"/>
<path d="M493.28,649.91 494.28,649.82 495.29,649.71 496.29,649.59 497.28,649.46 498.28,649.32 499.28,649.17 500.27,649.01 501.26,648.84 502.24,648.66 503.23,648.47 504.21,648.27 505.19,648.06 506.17,647.85 507.15,647.62 508.12,647.38 509.09,647.13 510.06,646.87 511.02,646.6 511.98,646.33 512.94,646.04 513.9,645.74 514.85,645.44 515.8,645.13 516.75,644.8 517.69,644.47 518.63,644.13 519.57,643.78 520.5,643.42 521.43,643.05 522.36,642.68 523.28,642.29 524.2,641.9 525.12,641.5 526.03,641.09 526.94,640.67 527.85,640.24 528.75,639.81 529.64,639.37 530.54,638.92 531.43,638.46 532.31,637.99 533.19,637.52 534.07,637.03 534.94,636.55 535.81,636.05 536.68,635.54 537.54,635.03 538.39,634.51 539.24,633.98 540.09,633.45 540.93,632.91 541.77,632.36 542.6,631.8 543.43,631.24 544.25,630.67 545.07,630.09 545.88,629.51 546.69,628.92 547.49,628.32 548.29,627.72 549.08,627.11 549.87,626.49 550.65,625.87 551.43,625.24 552.2,624.6 552.96,623.96 553.72,623.31 554.48,622.66 555.23,622 555.97,621.33 556.71,620.66 557.44,619.98 558.16,619.3 558.88,618.61 559.6,617.92 560.31,617.22 561.01,616.51 561.7,615.8 562.39,615.08 563.08,614.36 563.76,613.64 564.43,612.91 565.1,612.17 565.76,611.43 566.42,610.68 567.07,609.93 567.72,609.18 568.36,608.42 568.99,607.66 569.62,606.89 570.25,606.12 570.87,605.34 571.49,604.56 572.1,603.78 572.71,602.99 573.32,602.2 573.92,601.4 574.51,600.6 575.1,599.8 575.69,599 576.27,598.19 576.85,597.38 577.43,596.56 578,595.75 578.57,594.93 579.14,594.1 579.7,593.28 580.26,592.45 580.81,591.62 581.37,590.78 581.92,589.95 582.46,589.11 583.01,588.27 583.55,587.43 584.09,586.59 584.62,585.74 585.16,584.89 585.69,584.04 586.22,583.19 586.74,582.34 587.27,581.49 587.79,580.63 588.31,579.77 588.83,578.92 589.35,578.06 589.86,577.2 590.37,576.34 590.89,575.48 591.4,574.62 591.91,573.75 592.42,572.89 592.92,572.03 593.43,571.16 593.93,570.3 594.43,569.43 594.94,568.56 595.44,567.7 595.94,566.83 596.44,565.96 596.93,565.09 597.43,564.23 597.93,563.36 598.42,562.49 598.92,561.62 599.41,560.75 599.9,559.88 600.4,559.01 600.89,558.14 601.38,557.27 601.87,556.4 602.36,555.53 602.85,554.66 603.34,553.79 603.83,552.92 604.32,552.05 604.81,551.18 605.3,550.31 605.79,549.44 606.28,548.57 606.77,547.7 607.26,546.83 607.75,545.96 608.24,545.1 608.73,544.23 609.22,543.36 609.71,542.5 610.2,541.63 610.69,540.76 611.19,539.9 611.68,539.03 612.17,538.17 612.66,537.31 613.16,536.44 613.65,535.58 614.15,534.72 614.64,533.86 615.14,533 615.64,532.14 616.13,531.28 616.63,530.42 617.12,529.56 617.62,528.7 618.12,527.84 618.61,526.98 619.11,526.12 619.61,525.27 620.1,524.41 620.6,523.55 621.1,522.69 621.59,521.83 622.09,520.97 622.58,520.11 623.08,519.26 623.57,518.4 624.07,517.54 624.56,516.68 625.06,515.82 625.55,514.96 626.05,514.1 626.54,513.24 627.04,512.38 627.54,511.52 628.03,510.66 628.53,509.81 629.03,508.95 629.53,508.09 630.03,507.23 630.53,506.37 631.04,505.51 631.54,504.66 632.05,503.8 632.56,502.94 633.07,502.09 633.58,501.23 634.09,500.38 634.61,499.52 635.13,498.67 635.65,497.81 636.17,496.96 636.7,496.11 637.23,495.25 637.76,494.4 638.29,493.55 638.83,492.7 639.37,491.85 639.91,491 640.46,490.15 641.01,489.31 641.56,488.46 642.12,487.62 642.68,486.77 643.24,485.93 643.81,485.09 644.38,484.25 644.96,483.42 645.54,482.58 646.12,481.75 646.71,480.93 647.3,480.1 647.89,479.28 648.49,478.46 649.1,477.65 649.71,476.84 650.32,476.03 650.94,475.23 651.56,474.43 652.19,473.63 652.82,472.84 653.46,472.06 654.1,471.28 654.75,470.51 655.4,469.74 656.06,468.98 656.72,468.22 657.38,467.47 658.06,466.72 658.74,465.99 659.42,465.25 660.11,464.53 660.8,463.81 661.5,463.1 662.21,462.4 662.92,461.7 663.64,461.01 664.36,460.33 665.09,459.66 665.83,459 666.57,458.34 667.32,457.7 668.07,457.06 668.83,456.43 669.6,455.81 670.37,455.2 671.15,454.6 671.94,454.01 672.73,453.43 673.54,452.86 674.34,452.3 675.16,451.75 675.98,451.22 676.81,450.69 677.64,450.17 678.48,449.67 679.33,449.17 680.19,448.69 681.06,448.22 681.93,447.77 682.81,447.32 683.69,446.89 684.59,446.47 685.49,446.06 686.39,445.67 687.31,445.28 688.23,444.92 689.15,444.56 690.09,444.22 691.02,443.89 691.96,443.57 692.91,443.27 693.86,442.98 694.82,442.7 695.78,442.44 696.74,442.19 697.71,441.96 698.69,441.74 699.66,441.53 700.64,441.34 701.62,441.16 702.61,441 703.59,440.85 704.58,440.71 705.57,440.59 706.57,440.49 707.56,440.4 708.56,440.32 709.56,440.26 710.56,440.22 711.55,440.19 712.55,440.18 713.55,440.18 714.55,440.2 715.55,440.23 716.55,440.28 717.55,440.34 718.55,440.42 719.54,440.52 720.54,440.63 721.53,440.75 722.52,440.9 723.51,441.05 724.5,441.22 725.48,441.41 726.47,441.61 727.44,441.83 728.42,442.06 729.39,442.31 730.36,442.57 731.32,442.85 732.28,443.14 733.23,443.45 734.18,443.77 735.13,444.1 736.07,444.45 737,444.82 737.93,445.19 738.85,445.59 739.77,445.99 740.68,446.42 741.58,446.85 742.48,447.3 743.37,447.76 744.25,448.24 745.12,448.73 745.99,449.24 746.85,449.75 747.69,450.29 748.54,450.83 749.37,451.39 750.19,451.96 751,452.55 751.81,453.15 752.6,453.76 753.38,454.39 754.16,455.02 754.92,455.68 755.67,456.34 756.41,457.02 757.14,457.71 757.86,458.41 758.57,459.13" fill="none" stroke="#0000ff" stroke-width="1.4" stroke-linejoin="round"/>
<path d="M647 591.6H673.5" stroke="#0000ff" stroke-width="1.4"/>
<text x="674" y="594.8" font-size="10.5" font-family="'Liberation Sans', sans-serif">V<tspan font-size="7" dy="1.5">IN</tspan><tspan dy="-1.5">=5V,V</tspan><tspan font-size="7" dy="1.5">OUT</tspan><tspan dy="-1.5">=1.8V</tspan></text>
<path d="M647 606.1H673.5" stroke="#ff00ff" stroke-width="1.5" stroke-dasharray="9.4 5.6"/>
<text x="674" y="609.3" font-size="10.5" font-family="'Liberation Sans', sans-serif">V<tspan font-size="7" dy="1.5">IN</tspan><tspan dy="-1.5">=12V,V</tspan><tspan font-size="7" dy="1.5">OUT</tspan><tspan dy="-1.5">=1.8V</tspan></text>
<path d="M647 620.8H670.5" stroke="#008000" stroke-width="1.5" stroke-dasharray="2.2 1.5"/>
<text x="674" y="624" font-size="10.5" font-family="'Liberation Sans', sans-serif">V<tspan font-size="7" dy="1.5">IN</tspan><tspan dy="-1.5">=19V,V</tspan><tspan font-size="7" dy="1.5">OUT</tspan><tspan dy="-1.5">=1.8V</tspan></text>
<path d="M647 635.3H673.5" stroke="#800000" stroke-width="1.6" stroke-dasharray="9.5 5.5 1.1 5 1.1 5"/>
<text x="674" y="638.5" font-size="10.5" font-family="'Liberation Sans', sans-serif">V<tspan font-size="7" dy="1.5">IN</tspan><tspan dy="-1.5">=23V,V</tspan><tspan font-size="7" dy="1.5">OUT</tspan><tspan dy="-1.5">=1.8V</tspan></text>
<text x="552.0" y="399.7" font-size="14" font-family="'Liberation Sans', sans-serif">Efficiency vs. Load Current</text>
<text x="575.0" y="413.5" font-size="10.5" font-family="'Liberation Sans', sans-serif">(V<tspan font-size="7" dy="1.6">BYP</tspan><tspan dy="-1.6">=3.3V, MODE=High)</tspan></text>
<text x="634.9" y="691.9" font-size="14" font-family="'Liberation Sans', sans-serif" text-anchor="middle">Load Current (A)</text>
<text transform="translate(463.9 532.3) rotate(-90)" font-size="14" font-family="'Liberation Sans', sans-serif" text-anchor="middle">Efficiency (%)</text>
<text x="485.6" y="654.7" font-size="10.5" font-family="'Liberation Sans', sans-serif" text-anchor="end">0</text>
<text x="487.4" y="634.8" font-size="10.5" font-family="'Liberation Sans', sans-serif" text-anchor="end">10</text>
<text x="487.4" y="611.6" font-size="10.5" font-family="'Liberation Sans', sans-serif" text-anchor="end">20</text>
<text x="487.4" y="589" font-size="10.5" font-family="'Liberation Sans', sans-serif" text-anchor="end">30</text>
<text x="487.4" y="566" font-size="10.5" font-family="'Liberation Sans', sans-serif" text-anchor="end">40</text>
<text x="487.4" y="543.5" font-size="10.5" font-family="'Liberation Sans', sans-serif" text-anchor="end">50</text>
<text x="487.4" y="521.5" font-size="10.5" font-family="'Liberation Sans', sans-serif" text-anchor="end">60</text>
<text x="487.4" y="498" font-size="10.5" font-family="'Liberation Sans', sans-serif" text-anchor="end">70</text>
<text x="487.4" y="475" font-size="10.5" font-family="'Liberation Sans', sans-serif" text-anchor="end">80</text>
<text x="487.4" y="453.6" font-size="10.5" font-family="'Liberation Sans', sans-serif" text-anchor="end">90</text>
<text x="488.5" y="429.8" font-size="10.5" font-family="'Liberation Sans', sans-serif" text-anchor="end">100</text>
<text x="486.6" y="667.8" font-size="10" font-family="'Liberation Sans', sans-serif">0.001</text>
<text x="563.38" y="667.8" font-size="10" font-family="'Liberation Sans', sans-serif" text-anchor="middle">0.01</text>
<text x="633.25" y="667.8" font-size="10" font-family="'Liberation Sans', sans-serif" text-anchor="middle">0.1</text>
<text x="703.12" y="667.8" font-size="10" font-family="'Liberation Sans', sans-serif" text-anchor="middle">1</text>
<text x="774.4" y="667.8" font-size="10" font-family="'Liberation Sans', sans-serif" text-anchor="end">10</text>
<g>
<g font-family="'Liberation Sans', sans-serif" font-weight="bold" font-size="43">
<text transform="translate(283.9 373.9) scale(0.765 1)" fill="#b4b4b4">YuCan</text>
<text transform="translate(285.3 373.2) scale(0.765 1)" fill="#a9d6f4">YuCan</text>
</g>
<ellipse cx="383.9" cy="340.4" rx="7.6" ry="1.9" fill="#f5b4a4" transform="rotate(-69 383.9 340.4)"/>
<ellipse cx="391.5" cy="345.2" rx="7.2" ry="2.0" fill="#f8f0a0" transform="rotate(-39 391.5 345.2)"/>
<ellipse cx="395.3" cy="354.6" rx="6.3" ry="1.7" fill="#acd2f0" transform="rotate(5 395.3 354.6)"/>
<text transform="translate(436.4 340.8) scale(0.79 1.0)" font-family="'Liberation Mono', monospace" font-size="13.8" fill="#b0b0b0">0755-27933516</text>
<g fill="none" stroke="#b3b3f7" stroke-width="3.2" stroke-linecap="round" stroke-linejoin="round">
<rect x="414.6" y="344.9" width="13.6" height="6.4" rx="1" fill="#b3b3f7" stroke="#b3b3f7" stroke-width="2"/>
<path d="M412.3 354.4H430"/>
<path d="M417 355.8L419 360M427 355.8L424.8 360"/>
<path d="M409.2 362.2Q422 358.6 436.6 361.8"/>
<path d="M440.4 348L441.4 354M448.8 348L447.6 352.2M444.6 345L445.8 354.2Q443 358.6 438 360.8M445.8 354.2L450 360.2"/>
<path d="M455.8 345V360.3M451.4 351.4V360.6H462V351"/>
<rect x="469.6" y="346.8" width="17" height="10.6" rx="1" fill="#b3b3f7" stroke="#b3b3f7" stroke-width="2"/>
<path d="M478.2 343.6V359Q478.6 361.6 484 361.6H491.2Q492.8 361.4 492.7 357"/>
<path d="M501.4 345.2H516.4L507 350.6M496.6 352.6H522.2M506.6 350.8V360.4Q506.2 362.6 501.8 362.2"/>
</g>
<g fill="#fff">
<rect x="418" y="346.6" width="7" height="1.1"/><rect x="418" y="349" width="7" height="1.1"/>
<rect x="472.6" y="349.2" width="3.4" height="1.5"/><rect x="480.4" y="349.2" width="3.8" height="1.5"/>
<rect x="472.6" y="353.2" width="3.4" height="1.5"/><rect x="480.4" y="353.2" width="3.8" height="1.5"/>
</g>
<text x="388.4" y="374.3" font-family="'Liberation Mono', monospace" font-size="15" fill="#f8a6d9" opacity="0.95">www.szyucan.com</text>
</g>
</svg></body></html>
